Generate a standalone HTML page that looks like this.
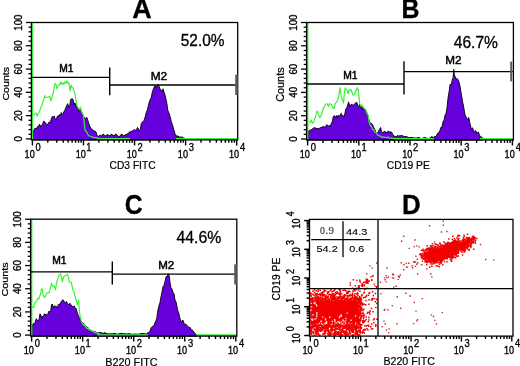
<!DOCTYPE html><html><head><meta charset="utf-8"><style>html,body{margin:0;padding:0;background:#fff}svg{display:block;will-change:transform}</style></head><body><svg width="520" height="366" viewBox="0 0 520 366"><rect width="520" height="366" fill="#fff"/><path d="M32.30,139.90 L33.50,131.00 L34.75,128.50 L36.00,128.50 L37.00,127.68 L38.00,126.00 L38.75,126.29 L39.50,124.10 L40.60,127.00 L41.55,125.12 L42.50,124.50 L43.50,121.22 L44.50,121.50 L45.70,123.16 L46.90,125.00 L47.95,124.13 L49.00,122.00 L50.00,122.55 L51.00,120.00 L52.25,116.51 L53.50,116.70 L54.40,116.08 L55.30,119.40 L56.40,118.79 L57.50,116.00 L58.50,116.02 L59.50,114.50 L60.38,115.90 L61.25,112.50 L62.12,114.67 L63.00,113.50 L64.00,111.57 L65.00,110.00 L65.75,107.49 L66.50,106.00 L67.70,103.70 L68.80,107.50 L69.70,105.95 L70.60,99.60 L71.75,98.75 L72.90,99.10 L74.00,104.80 L74.75,102.87 L75.50,104.00 L76.60,107.00 L77.67,107.06 L78.75,111.25 L80.00,108.00 L80.75,110.17 L81.50,112.00 L82.50,113.75 L83.25,115.61 L84.00,117.00 L85.20,119.00 L86.05,117.73 L86.90,117.50 L88.00,121.00 L88.75,123.75 L90.00,126.50 L91.25,128.75 L92.12,129.31 L93.00,130.00 L94.00,130.89 L95.00,131.25 L96.00,131.80 L96.75,134.55 L97.50,136.25 L98.75,136.33 L100.00,135.00 L101.00,135.64 L102.00,136.00 L103.00,134.05 L104.00,134.50 L105.00,135.72 L106.00,136.00 L107.00,134.57 L108.00,135.00 L109.00,135.39 L110.00,136.00 L111.00,134.26 L112.00,134.50 L113.00,135.25 L114.00,136.00 L115.00,134.46 L116.00,134.00 L117.00,135.15 L118.00,136.00 L119.00,137.83 L120.00,135.50 L121.00,134.72 L122.00,134.00 L123.00,135.58 L124.00,136.00 L125.00,134.64 L126.00,135.00 L126.92,133.95 L127.83,133.87 L128.75,132.50 L129.88,131.92 L131.00,131.50 L131.92,131.35 L132.83,130.60 L133.75,130.00 L134.62,129.25 L135.50,130.50 L136.50,129.60 L137.50,127.50 L138.45,128.53 L139.40,131.25 L140.32,129.63 L141.25,123.75 L142.50,121.81 L143.75,121.25 L145.00,117.50 L146.25,112.50 L147.50,109.39 L148.75,103.75 L150.00,100.00 L151.25,97.50 L152.50,91.25 L153.25,89.38 L154.00,87.50 L155.00,85.60 L156.00,88.10 L157.00,86.00 L157.88,84.35 L158.75,85.60 L160.00,89.00 L161.00,90.00 L162.00,91.71 L163.00,88.75 L164.00,92.00 L165.00,95.00 L165.95,99.12 L166.90,103.75 L167.82,110.46 L168.75,112.50 L170.00,116.25 L171.25,121.52 L172.50,125.00 L173.75,129.52 L175.00,133.75 L176.25,136.25 L177.12,135.66 L178.00,136.00 L179.00,136.93 L180.00,137.00 L181.25,137.19 L182.50,136.90 L183.75,138.29 L185.00,138.20 L185.00,139.90 Z" fill="#6600dc" stroke="#000" stroke-width="0.9" stroke-linejoin="round"/><path d="M33.30,115.00 L34.30,115.00 L35.15,113.47 L36.00,113.00 L37.20,116.00 L38.50,113.00 L39.50,111.50 L40.60,108.30 L41.60,106.00 L42.90,101.40 L43.80,99.49 L44.70,95.60 L45.63,97.10 L46.57,97.25 L47.50,97.30 L48.65,97.13 L49.80,96.20 L51.00,100.80 L52.15,97.08 L53.30,92.70 L54.15,86.90 L55.00,83.50 L55.90,84.10 L56.80,88.70 L57.95,85.90 L59.10,84.70 L59.95,84.49 L60.80,81.80 L61.95,84.35 L63.10,82.90 L63.95,84.35 L64.80,81.80 L65.70,83.20 L66.60,80.60 L67.75,83.40 L68.90,82.90 L70.00,91.00 L71.20,85.20 L72.05,87.77 L72.90,87.50 L73.75,90.16 L74.60,92.10 L75.80,99.10 L76.90,104.80 L77.80,107.78 L78.70,108.30 L79.55,109.70 L80.40,107.10 L81.60,111.80 L82.45,113.04 L83.30,115.20 L84.00,120.00 L85.00,130.00 L86.25,131.36 L87.50,133.75 L88.75,135.99 L90.00,136.00 L91.25,136.56 L92.50,136.90 L93.75,137.56 L95.00,137.50 L96.00,137.96 L97.00,137.52 L98.00,138.71 L99.00,138.66 L100.00,138.40" fill="none" stroke="#3cf03c" stroke-width="1.2" stroke-linejoin="round"/><line x1="97.00" y1="138.90" x2="130.00" y2="138.90" stroke="#3cf03c" stroke-width="1.9"/><line x1="176.00" y1="138.90" x2="237.20" y2="138.90" stroke="#3cf03c" stroke-width="1.9"/><line x1="32.50" y1="23.10" x2="32.50" y2="139.30" stroke="#3cf03c" stroke-width="1.4"/><rect x="31.40" y="22.50" width="206.30" height="117.40" fill="none" stroke="#000" stroke-width="1.3"/><line x1="25.90" y1="138.90" x2="31.40" y2="138.90" stroke="#000" stroke-width="1.3"/><line x1="28.50" y1="134.24" x2="31.40" y2="134.24" stroke="#000" stroke-width="1.3"/><line x1="28.50" y1="129.59" x2="31.40" y2="129.59" stroke="#000" stroke-width="1.3"/><line x1="28.50" y1="124.93" x2="31.40" y2="124.93" stroke="#000" stroke-width="1.3"/><line x1="28.50" y1="120.28" x2="31.40" y2="120.28" stroke="#000" stroke-width="1.3"/><line x1="25.90" y1="115.62" x2="31.40" y2="115.62" stroke="#000" stroke-width="1.3"/><line x1="28.50" y1="110.96" x2="31.40" y2="110.96" stroke="#000" stroke-width="1.3"/><line x1="28.50" y1="106.31" x2="31.40" y2="106.31" stroke="#000" stroke-width="1.3"/><line x1="28.50" y1="101.65" x2="31.40" y2="101.65" stroke="#000" stroke-width="1.3"/><line x1="28.50" y1="97.00" x2="31.40" y2="97.00" stroke="#000" stroke-width="1.3"/><line x1="25.90" y1="92.34" x2="31.40" y2="92.34" stroke="#000" stroke-width="1.3"/><line x1="28.50" y1="87.68" x2="31.40" y2="87.68" stroke="#000" stroke-width="1.3"/><line x1="28.50" y1="83.03" x2="31.40" y2="83.03" stroke="#000" stroke-width="1.3"/><line x1="28.50" y1="78.37" x2="31.40" y2="78.37" stroke="#000" stroke-width="1.3"/><line x1="28.50" y1="73.72" x2="31.40" y2="73.72" stroke="#000" stroke-width="1.3"/><line x1="25.90" y1="69.06" x2="31.40" y2="69.06" stroke="#000" stroke-width="1.3"/><line x1="28.50" y1="64.40" x2="31.40" y2="64.40" stroke="#000" stroke-width="1.3"/><line x1="28.50" y1="59.75" x2="31.40" y2="59.75" stroke="#000" stroke-width="1.3"/><line x1="28.50" y1="55.09" x2="31.40" y2="55.09" stroke="#000" stroke-width="1.3"/><line x1="28.50" y1="50.44" x2="31.40" y2="50.44" stroke="#000" stroke-width="1.3"/><line x1="25.90" y1="45.78" x2="31.40" y2="45.78" stroke="#000" stroke-width="1.3"/><line x1="28.50" y1="41.12" x2="31.40" y2="41.12" stroke="#000" stroke-width="1.3"/><line x1="28.50" y1="36.47" x2="31.40" y2="36.47" stroke="#000" stroke-width="1.3"/><line x1="28.50" y1="31.81" x2="31.40" y2="31.81" stroke="#000" stroke-width="1.3"/><line x1="28.50" y1="27.16" x2="31.40" y2="27.16" stroke="#000" stroke-width="1.3"/><line x1="25.90" y1="22.50" x2="31.40" y2="22.50" stroke="#000" stroke-width="1.3"/><line x1="32.40" y1="139.90" x2="32.40" y2="145.40" stroke="#000" stroke-width="1.4"/><line x1="47.78" y1="139.90" x2="47.78" y2="142.80" stroke="#000" stroke-width="1.4"/><line x1="56.77" y1="139.90" x2="56.77" y2="142.80" stroke="#000" stroke-width="1.4"/><line x1="63.15" y1="139.90" x2="63.15" y2="142.80" stroke="#000" stroke-width="1.4"/><line x1="68.10" y1="139.90" x2="68.10" y2="142.80" stroke="#000" stroke-width="1.4"/><line x1="72.14" y1="139.90" x2="72.14" y2="142.80" stroke="#000" stroke-width="1.4"/><line x1="75.56" y1="139.90" x2="75.56" y2="142.80" stroke="#000" stroke-width="1.4"/><line x1="78.53" y1="139.90" x2="78.53" y2="142.80" stroke="#000" stroke-width="1.4"/><line x1="81.14" y1="139.90" x2="81.14" y2="142.80" stroke="#000" stroke-width="1.4"/><line x1="83.47" y1="139.90" x2="83.47" y2="145.40" stroke="#000" stroke-width="1.4"/><line x1="98.85" y1="139.90" x2="98.85" y2="142.80" stroke="#000" stroke-width="1.4"/><line x1="107.84" y1="139.90" x2="107.84" y2="142.80" stroke="#000" stroke-width="1.4"/><line x1="114.23" y1="139.90" x2="114.23" y2="142.80" stroke="#000" stroke-width="1.4"/><line x1="119.17" y1="139.90" x2="119.17" y2="142.80" stroke="#000" stroke-width="1.4"/><line x1="123.22" y1="139.90" x2="123.22" y2="142.80" stroke="#000" stroke-width="1.4"/><line x1="126.64" y1="139.90" x2="126.64" y2="142.80" stroke="#000" stroke-width="1.4"/><line x1="129.60" y1="139.90" x2="129.60" y2="142.80" stroke="#000" stroke-width="1.4"/><line x1="132.21" y1="139.90" x2="132.21" y2="142.80" stroke="#000" stroke-width="1.4"/><line x1="134.55" y1="139.90" x2="134.55" y2="145.40" stroke="#000" stroke-width="1.4"/><line x1="149.93" y1="139.90" x2="149.93" y2="142.80" stroke="#000" stroke-width="1.4"/><line x1="158.92" y1="139.90" x2="158.92" y2="142.80" stroke="#000" stroke-width="1.4"/><line x1="165.30" y1="139.90" x2="165.30" y2="142.80" stroke="#000" stroke-width="1.4"/><line x1="170.25" y1="139.90" x2="170.25" y2="142.80" stroke="#000" stroke-width="1.4"/><line x1="174.29" y1="139.90" x2="174.29" y2="142.80" stroke="#000" stroke-width="1.4"/><line x1="177.71" y1="139.90" x2="177.71" y2="142.80" stroke="#000" stroke-width="1.4"/><line x1="180.68" y1="139.90" x2="180.68" y2="142.80" stroke="#000" stroke-width="1.4"/><line x1="183.29" y1="139.90" x2="183.29" y2="142.80" stroke="#000" stroke-width="1.4"/><line x1="185.62" y1="139.90" x2="185.62" y2="145.40" stroke="#000" stroke-width="1.4"/><line x1="201.00" y1="139.90" x2="201.00" y2="142.80" stroke="#000" stroke-width="1.4"/><line x1="209.99" y1="139.90" x2="209.99" y2="142.80" stroke="#000" stroke-width="1.4"/><line x1="216.38" y1="139.90" x2="216.38" y2="142.80" stroke="#000" stroke-width="1.4"/><line x1="221.32" y1="139.90" x2="221.32" y2="142.80" stroke="#000" stroke-width="1.4"/><line x1="225.37" y1="139.90" x2="225.37" y2="142.80" stroke="#000" stroke-width="1.4"/><line x1="228.79" y1="139.90" x2="228.79" y2="142.80" stroke="#000" stroke-width="1.4"/><line x1="231.75" y1="139.90" x2="231.75" y2="142.80" stroke="#000" stroke-width="1.4"/><line x1="234.36" y1="139.90" x2="234.36" y2="142.80" stroke="#000" stroke-width="1.4"/><line x1="236.70" y1="139.90" x2="236.70" y2="145.40" stroke="#000" stroke-width="1.4"/><text transform="translate(21.74,141.59) rotate(-90) scale(0.820,1)" font-family='"Liberation Sans", sans-serif' font-weight="normal" font-size="11.80" fill="#000" stroke="#000" stroke-width="0.37">0</text><text transform="translate(21.74,121.06) rotate(-90) scale(0.820,1)" font-family='"Liberation Sans", sans-serif' font-weight="normal" font-size="11.80" fill="#000" stroke="#000" stroke-width="0.37">20</text><text transform="translate(21.74,97.64) rotate(-90) scale(0.820,1)" font-family='"Liberation Sans", sans-serif' font-weight="normal" font-size="11.80" fill="#000" stroke="#000" stroke-width="0.37">40</text><text transform="translate(21.74,74.50) rotate(-90) scale(0.820,1)" font-family='"Liberation Sans", sans-serif' font-weight="normal" font-size="11.80" fill="#000" stroke="#000" stroke-width="0.37">60</text><text transform="translate(21.74,51.18) rotate(-90) scale(0.820,1)" font-family='"Liberation Sans", sans-serif' font-weight="normal" font-size="11.80" fill="#000" stroke="#000" stroke-width="0.37">80</text><text transform="translate(21.74,30.75) rotate(-90) scale(0.820,1)" font-family='"Liberation Sans", sans-serif' font-weight="normal" font-size="11.80" fill="#000" stroke="#000" stroke-width="0.37">100</text><text transform="translate(24.60,157.70) scale(0.815,1)" font-family='"Liberation Sans", sans-serif' font-weight="normal" font-size="11.20" fill="#000" stroke="#000" stroke-width="0.37">10</text><text transform="translate(35.53,151.20) scale(0.900,1)" font-family='"Liberation Sans", sans-serif' font-weight="normal" font-size="10.40" fill="#000" stroke="#000" stroke-width="0.33">0</text><text transform="translate(75.68,157.70) scale(0.815,1)" font-family='"Liberation Sans", sans-serif' font-weight="normal" font-size="11.20" fill="#000" stroke="#000" stroke-width="0.37">10</text><text transform="translate(86.26,151.20) scale(0.900,1)" font-family='"Liberation Sans", sans-serif' font-weight="normal" font-size="10.40" fill="#000" stroke="#000" stroke-width="0.33">1</text><text transform="translate(126.75,157.70) scale(0.815,1)" font-family='"Liberation Sans", sans-serif' font-weight="normal" font-size="11.20" fill="#000" stroke="#000" stroke-width="0.37">10</text><text transform="translate(137.58,151.20) scale(0.900,1)" font-family='"Liberation Sans", sans-serif' font-weight="normal" font-size="10.40" fill="#000" stroke="#000" stroke-width="0.33">2</text><text transform="translate(177.83,157.70) scale(0.815,1)" font-family='"Liberation Sans", sans-serif' font-weight="normal" font-size="11.20" fill="#000" stroke="#000" stroke-width="0.37">10</text><text transform="translate(188.77,151.20) scale(0.900,1)" font-family='"Liberation Sans", sans-serif' font-weight="normal" font-size="10.40" fill="#000" stroke="#000" stroke-width="0.33">3</text><text transform="translate(228.90,157.70) scale(0.815,1)" font-family='"Liberation Sans", sans-serif' font-weight="normal" font-size="11.20" fill="#000" stroke="#000" stroke-width="0.37">10</text><text transform="translate(239.99,151.20) scale(0.900,1)" font-family='"Liberation Sans", sans-serif' font-weight="normal" font-size="10.40" fill="#000" stroke="#000" stroke-width="0.33">4</text><line x1="31.40" y1="77.40" x2="109.70" y2="77.40" stroke="#000" stroke-width="1.3"/><line x1="109.70" y1="67.50" x2="109.70" y2="95.20" stroke="#000" stroke-width="1.4"/><line x1="109.70" y1="85.00" x2="237.70" y2="85.00" stroke="#000" stroke-width="1.3"/><rect x="235.2" y="74.6" width="2.6" height="20.4" fill="#5a5a5a"/><text transform="translate(59.26,72.20) scale(0.904,1)" font-family='"Liberation Sans", sans-serif' font-weight="normal" font-size="11.34" fill="#000" stroke="#000" stroke-width="0.55">M1</text><text transform="translate(150.63,79.60) scale(1.134,1)" font-family='"Liberation Sans", sans-serif' font-weight="normal" font-size="10.45" fill="#000" stroke="#000" stroke-width="0.44">M2</text><text transform="translate(180.78,45.94) scale(0.934,1)" font-family='"Liberation Sans", sans-serif' font-weight="normal" font-size="16.53" fill="#000" stroke="#000" stroke-width="0.32">52.0%</text><text transform="translate(132.13,18.30) scale(0.998,1)" font-family='"Liberation Sans", sans-serif' font-weight="bold" font-size="27.04" fill="#000" stroke="#000" stroke-width="0.30">A</text><text transform="translate(8.66,100.59) rotate(-90) scale(1.145,1)" font-family='"Liberation Sans", sans-serif' font-weight="normal" font-size="9.32" fill="#000" stroke="#000" stroke-width="0.22">Counts</text><text transform="translate(109.58,168.50) scale(1.020,1)" font-family='"Liberation Sans", sans-serif' font-weight="normal" font-size="10.03" fill="#000" stroke="#000" stroke-width="0.20">CD3 FITC</text><path d="M307.50,140.00 L308.50,131.00 L309.25,130.68 L310.00,130.00 L311.00,130.29 L312.00,129.00 L313.00,128.84 L314.00,127.43 L315.00,128.10 L316.00,128.18 L317.00,128.50 L318.00,128.58 L319.00,129.09 L320.00,127.50 L321.00,128.07 L322.00,127.00 L322.88,126.70 L323.75,126.25 L324.62,127.99 L325.50,126.50 L326.50,124.82 L327.50,125.00 L328.50,126.24 L329.50,125.50 L330.38,126.04 L331.25,123.75 L332.50,121.00 L333.10,116.90 L333.95,115.89 L334.80,115.80 L336.00,118.00 L336.85,115.35 L337.70,117.50 L338.60,115.32 L339.50,116.00 L340.30,115.09 L341.10,113.40 L342.30,115.47 L343.50,115.80 L344.25,116.80 L345.00,113.00 L345.95,108.56 L346.90,107.70 L347.75,104.80 L348.60,101.90 L349.80,106.50 L351.00,104.50 L352.10,104.20 L352.95,105.77 L353.80,104.80 L354.70,103.64 L355.60,103.10 L356.75,102.15 L357.90,106.00 L358.75,106.66 L359.60,104.20 L360.75,107.75 L361.90,106.50 L362.70,109.37 L363.50,108.50 L364.80,110.00 L365.95,110.10 L367.10,113.40 L368.20,116.00 L368.80,119.20 L370.00,123.00 L371.25,123.16 L372.50,124.40 L373.25,126.47 L374.00,128.00 L375.00,130.00 L376.25,133.61 L377.50,132.50 L378.25,131.84 L379.00,130.00 L379.80,128.87 L380.60,127.50 L381.55,131.58 L382.50,132.50 L383.75,131.80 L385.00,131.25 L386.00,133.35 L387.00,132.00 L388.20,131.33 L389.40,131.90 L390.65,131.78 L391.90,132.50 L392.70,134.32 L393.50,135.00 L394.25,136.55 L395.00,136.25 L395.94,136.64 L396.88,136.43 L397.81,135.17 L398.75,136.25 L399.69,135.65 L400.62,135.54 L401.56,135.42 L402.50,135.60 L403.75,136.41 L405.00,136.50 L406.25,136.51 L407.50,136.90 L408.75,137.59 L410.00,137.50 L411.00,137.60 L412.00,137.47 L413.00,137.73 L414.00,137.93 L415.00,137.80 L416.00,138.20 L417.00,137.68 L418.00,137.82 L419.00,137.40 L420.00,138.00 L421.00,138.65 L422.00,138.59 L423.00,137.93 L424.00,137.81 L425.00,137.50 L426.00,138.07 L427.00,138.08 L428.00,138.88 L429.00,138.10 L430.00,138.00 L430.94,137.38 L431.88,136.29 L432.81,137.88 L433.75,136.90 L435.00,136.68 L436.25,136.25 L437.50,133.17 L438.75,132.50 L439.80,131.01 L440.85,127.46 L441.90,127.50 L443.10,121.25 L444.05,120.53 L445.00,115.00 L445.95,113.82 L446.90,108.75 L448.10,97.50 L449.40,90.00 L450.00,84.40 L451.25,85.00 L452.50,78.75 L453.10,77.50 L453.75,69.40 L454.30,75.00 L455.00,76.25 L456.25,78.99 L457.50,78.75 L458.75,81.25 L460.00,86.25 L461.25,93.75 L462.50,101.25 L463.75,107.50 L465.00,115.00 L466.25,117.23 L467.50,120.00 L468.75,117.50 L470.00,123.75 L471.25,128.75 L472.50,127.82 L473.75,131.25 L474.69,131.44 L475.62,130.46 L476.56,132.72 L477.50,132.50 L478.45,132.06 L479.40,135.00 L480.60,136.90 L481.80,137.13 L483.00,138.20 L483.00,140.00 Z" fill="#6600dc" stroke="#000" stroke-width="0.9" stroke-linejoin="round"/><path d="M309.00,122.00 L310.12,122.45 L311.25,120.00 L312.50,123.19 L313.75,122.50 L314.62,118.30 L315.50,117.00 L316.50,112.12 L317.50,111.25 L318.75,115.60 L320.00,117.50 L321.25,115.56 L322.50,111.25 L323.50,107.61 L324.50,107.00 L325.38,104.25 L326.25,103.75 L327.38,103.99 L328.50,106.50 L329.65,103.42 L330.80,104.20 L331.95,105.41 L333.10,108.80 L334.25,107.95 L335.40,103.10 L336.55,102.54 L337.70,99.60 L338.85,95.55 L340.00,87.50 L340.85,92.84 L341.70,98.50 L342.60,100.57 L343.50,103.10 L344.60,90.40 L345.45,87.87 L346.30,89.20 L347.20,91.26 L348.10,93.80 L348.95,90.10 L349.80,90.40 L350.95,89.55 L352.10,92.70 L352.95,95.16 L353.80,95.00 L354.70,94.70 L355.60,90.40 L356.45,90.61 L357.30,87.50 L358.40,90.40 L359.60,103.10 L360.75,105.95 L361.90,104.80 L363.05,106.95 L364.20,108.30 L365.35,109.22 L366.50,112.30 L367.40,114.17 L368.30,115.80 L369.00,122.00 L369.75,123.59 L370.50,126.00 L371.50,126.70 L372.50,129.50 L373.75,129.65 L375.00,132.50 L376.25,132.79 L377.50,135.00 L378.38,135.37 L379.25,135.83 L380.12,135.90 L381.00,136.50 L382.00,137.30 L383.00,136.93 L384.00,137.26 L385.00,137.20 L386.00,137.81 L387.00,137.23 L388.00,137.02 L389.00,138.08 L390.00,138.00 L391.00,137.89 L392.00,138.52 L393.00,138.33 L394.00,138.57 L395.00,138.40" fill="none" stroke="#3cf03c" stroke-width="1.2" stroke-linejoin="round"/><line x1="394.00" y1="139.00" x2="434.00" y2="139.00" stroke="#3cf03c" stroke-width="1.9"/><line x1="480.00" y1="139.00" x2="512.90" y2="139.00" stroke="#3cf03c" stroke-width="1.9"/><line x1="307.70" y1="23.10" x2="307.70" y2="139.40" stroke="#3cf03c" stroke-width="1.4"/><rect x="306.60" y="22.50" width="206.80" height="117.50" fill="none" stroke="#000" stroke-width="1.3"/><line x1="301.10" y1="139.00" x2="306.60" y2="139.00" stroke="#000" stroke-width="1.3"/><line x1="303.70" y1="134.34" x2="306.60" y2="134.34" stroke="#000" stroke-width="1.3"/><line x1="303.70" y1="129.68" x2="306.60" y2="129.68" stroke="#000" stroke-width="1.3"/><line x1="303.70" y1="125.02" x2="306.60" y2="125.02" stroke="#000" stroke-width="1.3"/><line x1="303.70" y1="120.36" x2="306.60" y2="120.36" stroke="#000" stroke-width="1.3"/><line x1="301.10" y1="115.70" x2="306.60" y2="115.70" stroke="#000" stroke-width="1.3"/><line x1="303.70" y1="111.04" x2="306.60" y2="111.04" stroke="#000" stroke-width="1.3"/><line x1="303.70" y1="106.38" x2="306.60" y2="106.38" stroke="#000" stroke-width="1.3"/><line x1="303.70" y1="101.72" x2="306.60" y2="101.72" stroke="#000" stroke-width="1.3"/><line x1="303.70" y1="97.06" x2="306.60" y2="97.06" stroke="#000" stroke-width="1.3"/><line x1="301.10" y1="92.40" x2="306.60" y2="92.40" stroke="#000" stroke-width="1.3"/><line x1="303.70" y1="87.74" x2="306.60" y2="87.74" stroke="#000" stroke-width="1.3"/><line x1="303.70" y1="83.08" x2="306.60" y2="83.08" stroke="#000" stroke-width="1.3"/><line x1="303.70" y1="78.42" x2="306.60" y2="78.42" stroke="#000" stroke-width="1.3"/><line x1="303.70" y1="73.76" x2="306.60" y2="73.76" stroke="#000" stroke-width="1.3"/><line x1="301.10" y1="69.10" x2="306.60" y2="69.10" stroke="#000" stroke-width="1.3"/><line x1="303.70" y1="64.44" x2="306.60" y2="64.44" stroke="#000" stroke-width="1.3"/><line x1="303.70" y1="59.78" x2="306.60" y2="59.78" stroke="#000" stroke-width="1.3"/><line x1="303.70" y1="55.12" x2="306.60" y2="55.12" stroke="#000" stroke-width="1.3"/><line x1="303.70" y1="50.46" x2="306.60" y2="50.46" stroke="#000" stroke-width="1.3"/><line x1="301.10" y1="45.80" x2="306.60" y2="45.80" stroke="#000" stroke-width="1.3"/><line x1="303.70" y1="41.14" x2="306.60" y2="41.14" stroke="#000" stroke-width="1.3"/><line x1="303.70" y1="36.48" x2="306.60" y2="36.48" stroke="#000" stroke-width="1.3"/><line x1="303.70" y1="31.82" x2="306.60" y2="31.82" stroke="#000" stroke-width="1.3"/><line x1="303.70" y1="27.16" x2="306.60" y2="27.16" stroke="#000" stroke-width="1.3"/><line x1="301.10" y1="22.50" x2="306.60" y2="22.50" stroke="#000" stroke-width="1.3"/><line x1="307.60" y1="140.00" x2="307.60" y2="145.50" stroke="#000" stroke-width="1.4"/><line x1="323.01" y1="140.00" x2="323.01" y2="142.90" stroke="#000" stroke-width="1.4"/><line x1="332.03" y1="140.00" x2="332.03" y2="142.90" stroke="#000" stroke-width="1.4"/><line x1="338.43" y1="140.00" x2="338.43" y2="142.90" stroke="#000" stroke-width="1.4"/><line x1="343.39" y1="140.00" x2="343.39" y2="142.90" stroke="#000" stroke-width="1.4"/><line x1="347.44" y1="140.00" x2="347.44" y2="142.90" stroke="#000" stroke-width="1.4"/><line x1="350.87" y1="140.00" x2="350.87" y2="142.90" stroke="#000" stroke-width="1.4"/><line x1="353.84" y1="140.00" x2="353.84" y2="142.90" stroke="#000" stroke-width="1.4"/><line x1="356.46" y1="140.00" x2="356.46" y2="142.90" stroke="#000" stroke-width="1.4"/><line x1="358.80" y1="140.00" x2="358.80" y2="145.50" stroke="#000" stroke-width="1.4"/><line x1="374.21" y1="140.00" x2="374.21" y2="142.90" stroke="#000" stroke-width="1.4"/><line x1="383.23" y1="140.00" x2="383.23" y2="142.90" stroke="#000" stroke-width="1.4"/><line x1="389.63" y1="140.00" x2="389.63" y2="142.90" stroke="#000" stroke-width="1.4"/><line x1="394.59" y1="140.00" x2="394.59" y2="142.90" stroke="#000" stroke-width="1.4"/><line x1="398.64" y1="140.00" x2="398.64" y2="142.90" stroke="#000" stroke-width="1.4"/><line x1="402.07" y1="140.00" x2="402.07" y2="142.90" stroke="#000" stroke-width="1.4"/><line x1="405.04" y1="140.00" x2="405.04" y2="142.90" stroke="#000" stroke-width="1.4"/><line x1="407.66" y1="140.00" x2="407.66" y2="142.90" stroke="#000" stroke-width="1.4"/><line x1="410.00" y1="140.00" x2="410.00" y2="145.50" stroke="#000" stroke-width="1.4"/><line x1="425.41" y1="140.00" x2="425.41" y2="142.90" stroke="#000" stroke-width="1.4"/><line x1="434.43" y1="140.00" x2="434.43" y2="142.90" stroke="#000" stroke-width="1.4"/><line x1="440.83" y1="140.00" x2="440.83" y2="142.90" stroke="#000" stroke-width="1.4"/><line x1="445.79" y1="140.00" x2="445.79" y2="142.90" stroke="#000" stroke-width="1.4"/><line x1="449.84" y1="140.00" x2="449.84" y2="142.90" stroke="#000" stroke-width="1.4"/><line x1="453.27" y1="140.00" x2="453.27" y2="142.90" stroke="#000" stroke-width="1.4"/><line x1="456.24" y1="140.00" x2="456.24" y2="142.90" stroke="#000" stroke-width="1.4"/><line x1="458.86" y1="140.00" x2="458.86" y2="142.90" stroke="#000" stroke-width="1.4"/><line x1="461.20" y1="140.00" x2="461.20" y2="145.50" stroke="#000" stroke-width="1.4"/><line x1="476.61" y1="140.00" x2="476.61" y2="142.90" stroke="#000" stroke-width="1.4"/><line x1="485.63" y1="140.00" x2="485.63" y2="142.90" stroke="#000" stroke-width="1.4"/><line x1="492.03" y1="140.00" x2="492.03" y2="142.90" stroke="#000" stroke-width="1.4"/><line x1="496.99" y1="140.00" x2="496.99" y2="142.90" stroke="#000" stroke-width="1.4"/><line x1="501.04" y1="140.00" x2="501.04" y2="142.90" stroke="#000" stroke-width="1.4"/><line x1="504.47" y1="140.00" x2="504.47" y2="142.90" stroke="#000" stroke-width="1.4"/><line x1="507.44" y1="140.00" x2="507.44" y2="142.90" stroke="#000" stroke-width="1.4"/><line x1="510.06" y1="140.00" x2="510.06" y2="142.90" stroke="#000" stroke-width="1.4"/><line x1="512.40" y1="140.00" x2="512.40" y2="145.50" stroke="#000" stroke-width="1.4"/><text transform="translate(296.94,141.69) rotate(-90) scale(0.820,1)" font-family='"Liberation Sans", sans-serif' font-weight="normal" font-size="11.80" fill="#000" stroke="#000" stroke-width="0.37">0</text><text transform="translate(296.94,121.14) rotate(-90) scale(0.820,1)" font-family='"Liberation Sans", sans-serif' font-weight="normal" font-size="11.80" fill="#000" stroke="#000" stroke-width="0.37">20</text><text transform="translate(296.94,97.70) rotate(-90) scale(0.820,1)" font-family='"Liberation Sans", sans-serif' font-weight="normal" font-size="11.80" fill="#000" stroke="#000" stroke-width="0.37">40</text><text transform="translate(296.94,74.54) rotate(-90) scale(0.820,1)" font-family='"Liberation Sans", sans-serif' font-weight="normal" font-size="11.80" fill="#000" stroke="#000" stroke-width="0.37">60</text><text transform="translate(296.94,51.20) rotate(-90) scale(0.820,1)" font-family='"Liberation Sans", sans-serif' font-weight="normal" font-size="11.80" fill="#000" stroke="#000" stroke-width="0.37">80</text><text transform="translate(296.94,30.75) rotate(-90) scale(0.820,1)" font-family='"Liberation Sans", sans-serif' font-weight="normal" font-size="11.80" fill="#000" stroke="#000" stroke-width="0.37">100</text><text transform="translate(299.80,157.80) scale(0.815,1)" font-family='"Liberation Sans", sans-serif' font-weight="normal" font-size="11.20" fill="#000" stroke="#000" stroke-width="0.37">10</text><text transform="translate(310.73,151.30) scale(0.900,1)" font-family='"Liberation Sans", sans-serif' font-weight="normal" font-size="10.40" fill="#000" stroke="#000" stroke-width="0.33">0</text><text transform="translate(351.00,157.80) scale(0.815,1)" font-family='"Liberation Sans", sans-serif' font-weight="normal" font-size="11.20" fill="#000" stroke="#000" stroke-width="0.37">10</text><text transform="translate(361.59,151.30) scale(0.900,1)" font-family='"Liberation Sans", sans-serif' font-weight="normal" font-size="10.40" fill="#000" stroke="#000" stroke-width="0.33">1</text><text transform="translate(402.20,157.80) scale(0.815,1)" font-family='"Liberation Sans", sans-serif' font-weight="normal" font-size="11.20" fill="#000" stroke="#000" stroke-width="0.37">10</text><text transform="translate(413.03,151.30) scale(0.900,1)" font-family='"Liberation Sans", sans-serif' font-weight="normal" font-size="10.40" fill="#000" stroke="#000" stroke-width="0.33">2</text><text transform="translate(453.40,157.80) scale(0.815,1)" font-family='"Liberation Sans", sans-serif' font-weight="normal" font-size="11.20" fill="#000" stroke="#000" stroke-width="0.37">10</text><text transform="translate(464.34,151.30) scale(0.900,1)" font-family='"Liberation Sans", sans-serif' font-weight="normal" font-size="10.40" fill="#000" stroke="#000" stroke-width="0.33">3</text><text transform="translate(504.60,157.80) scale(0.815,1)" font-family='"Liberation Sans", sans-serif' font-weight="normal" font-size="11.20" fill="#000" stroke="#000" stroke-width="0.37">10</text><text transform="translate(515.69,151.30) scale(0.900,1)" font-family='"Liberation Sans", sans-serif' font-weight="normal" font-size="10.40" fill="#000" stroke="#000" stroke-width="0.33">4</text><line x1="306.60" y1="84.00" x2="404.00" y2="84.00" stroke="#000" stroke-width="1.3"/><line x1="404.00" y1="61.20" x2="404.00" y2="94.60" stroke="#000" stroke-width="1.4"/><line x1="404.00" y1="71.60" x2="513.40" y2="71.60" stroke="#000" stroke-width="1.3"/><rect x="510.2" y="61.6" width="2.0" height="19.8" fill="#5a5a5a"/><text transform="translate(343.25,78.60) scale(1.015,1)" font-family='"Liberation Sans", sans-serif' font-weight="normal" font-size="10.17" fill="#000" stroke="#000" stroke-width="0.49">M1</text><text transform="translate(445.14,63.50) scale(1.104,1)" font-family='"Liberation Sans", sans-serif' font-weight="normal" font-size="10.60" fill="#000" stroke="#000" stroke-width="0.45">M2</text><text transform="translate(453.74,47.55) scale(0.995,1)" font-family='"Liberation Sans", sans-serif' font-weight="normal" font-size="15.68" fill="#000" stroke="#000" stroke-width="0.30">46.7%</text><text transform="translate(401.53,18.30) scale(0.922,1)" font-family='"Liberation Sans", sans-serif' font-weight="bold" font-size="27.04" fill="#000" stroke="#000" stroke-width="0.33">B</text><text transform="translate(284.15,101.80) rotate(-90) scale(1.084,1)" font-family='"Liberation Sans", sans-serif' font-weight="normal" font-size="10.03" fill="#000" stroke="#000" stroke-width="0.23">Counts</text><text transform="translate(386.78,168.60) scale(1.002,1)" font-family='"Liberation Sans", sans-serif' font-weight="normal" font-size="10.31" fill="#000" stroke="#000" stroke-width="0.20">CD19 PE</text><path d="M31.50,336.10 L32.50,325.00 L33.10,323.75 L34.05,324.02 L35.00,322.50 L36.25,318.85 L37.50,320.00 L38.50,321.00 L39.25,318.39 L40.00,313.75 L40.95,315.27 L41.90,318.75 L42.70,316.31 L43.50,316.00 L44.25,314.22 L45.00,313.75 L46.00,315.30 L47.00,314.50 L47.88,314.27 L48.75,311.25 L50.00,312.00 L50.75,310.19 L51.50,304.90 L52.35,303.95 L53.20,307.80 L54.10,305.98 L55.00,306.25 L56.10,306.10 L57.50,308.20 L58.25,304.45 L59.00,305.50 L59.85,303.86 L60.70,302.60 L62.00,300.50 L63.00,299.70 L64.00,301.50 L65.30,302.60 L66.50,301.50 L67.60,303.80 L68.75,304.62 L69.90,303.20 L71.00,305.00 L72.20,306.10 L73.10,306.90 L74.05,305.86 L75.00,307.50 L76.25,308.75 L77.17,312.27 L78.10,315.00 L79.05,317.21 L80.00,318.75 L81.25,321.91 L82.50,322.50 L83.75,323.47 L85.00,326.25 L86.00,326.07 L87.00,327.50 L87.88,327.44 L88.75,328.75 L89.62,330.82 L90.50,330.00 L91.50,331.43 L92.50,331.25 L93.75,331.29 L95.00,331.50 L96.00,332.29 L97.00,332.80 L98.00,332.73 L99.00,332.65 L100.00,332.40 L101.00,332.68 L102.00,333.03 L103.00,333.60 L104.00,332.78 L105.00,332.87 L106.00,333.00 L107.00,334.08 L108.00,333.76 L109.00,333.78 L110.00,334.00 L111.00,333.76 L112.00,333.73 L113.00,333.72 L114.00,333.40 L115.00,333.30 L116.00,333.89 L117.00,334.10 L118.00,334.20 L119.00,333.74 L120.00,333.56 L121.00,333.30 L122.00,333.60 L123.00,333.27 L124.00,334.28 L125.00,333.08 L126.00,334.20 L127.00,333.99 L128.00,333.74 L129.00,333.63 L130.00,333.80 L131.00,333.92 L132.00,334.44 L133.00,334.07 L134.00,334.06 L135.00,334.20 L136.00,333.92 L137.00,334.07 L138.00,334.45 L139.00,333.88 L140.00,334.00 L141.00,333.52 L142.00,333.47 L143.00,333.54 L144.00,333.42 L145.00,334.00 L145.94,334.13 L146.88,333.43 L147.81,332.75 L148.75,332.50 L150.00,331.14 L151.25,327.50 L152.50,326.23 L153.75,326.25 L155.00,322.50 L156.25,320.00 L156.90,317.50 L157.50,312.50 L158.75,306.25 L160.00,302.50 L160.60,298.75 L161.90,292.50 L163.10,286.25 L164.05,285.54 L165.00,281.25 L166.25,276.25 L167.20,277.00 L168.10,273.60 L169.40,276.25 L170.00,282.50 L170.95,287.49 L171.90,288.75 L173.10,292.50 L174.05,293.85 L175.00,300.00 L176.25,302.60 L177.50,310.00 L178.75,312.96 L180.00,318.75 L180.94,320.88 L181.88,322.28 L182.81,320.04 L183.75,322.50 L184.69,324.64 L185.62,323.95 L186.56,324.90 L187.50,326.25 L188.44,326.66 L189.38,327.83 L190.31,327.53 L191.25,330.00 L192.19,330.05 L193.12,330.73 L194.06,332.62 L195.00,333.10 L196.00,334.76 L197.00,334.60 L197.00,336.10 Z" fill="#6600dc" stroke="#000" stroke-width="0.9" stroke-linejoin="round"/><path d="M32.30,307.00 L33.00,307.20 L33.75,307.60 L34.50,304.00 L35.50,302.16 L36.50,301.40 L37.65,298.25 L38.80,299.10 L39.65,296.09 L40.50,294.50 L41.35,289.91 L42.20,288.80 L43.10,294.80 L44.00,296.80 L44.85,297.25 L45.70,295.70 L46.85,292.94 L48.00,292.80 L49.15,292.55 L50.30,288.80 L51.50,283.00 L52.35,285.82 L53.20,286.50 L54.35,286.20 L55.50,289.90 L56.35,284.25 L57.20,280.70 L58.10,277.29 L59.00,274.90 L59.85,274.39 L60.70,273.80 L61.55,278.08 L62.40,281.80 L63.25,278.24 L64.10,276.10 L65.25,275.91 L66.40,274.90 L67.30,274.23 L68.20,276.10 L69.30,281.80 L70.50,282.40 L71.35,282.66 L72.20,286.50 L73.05,290.75 L73.90,291.00 L75.10,296.80 L76.30,300.30 L77.40,304.90 L78.60,300.30 L79.10,307.20 L79.60,313.00 L81.00,320.00 L81.75,322.24 L82.50,323.75 L83.44,325.09 L84.38,324.24 L85.31,326.43 L86.25,327.50 L87.25,328.73 L88.25,327.82 L89.25,330.10 L90.25,329.73 L91.25,330.60 L92.19,331.23 L93.12,331.33 L94.06,331.91 L95.00,332.20 L96.00,333.11 L97.00,332.75 L98.00,333.89 L99.00,333.37 L100.00,334.00" fill="none" stroke="#3cf03c" stroke-width="1.2" stroke-linejoin="round"/><line x1="97.00" y1="335.10" x2="148.00" y2="335.10" stroke="#3cf03c" stroke-width="1.9"/><line x1="196.00" y1="335.10" x2="236.30" y2="335.10" stroke="#3cf03c" stroke-width="1.9"/><line x1="31.70" y1="219.80" x2="31.70" y2="335.50" stroke="#3cf03c" stroke-width="1.4"/><rect x="30.60" y="219.20" width="206.20" height="116.90" fill="none" stroke="#000" stroke-width="1.3"/><line x1="25.10" y1="335.10" x2="30.60" y2="335.10" stroke="#000" stroke-width="1.3"/><line x1="27.70" y1="330.46" x2="30.60" y2="330.46" stroke="#000" stroke-width="1.3"/><line x1="27.70" y1="325.83" x2="30.60" y2="325.83" stroke="#000" stroke-width="1.3"/><line x1="27.70" y1="321.19" x2="30.60" y2="321.19" stroke="#000" stroke-width="1.3"/><line x1="27.70" y1="316.56" x2="30.60" y2="316.56" stroke="#000" stroke-width="1.3"/><line x1="25.10" y1="311.92" x2="30.60" y2="311.92" stroke="#000" stroke-width="1.3"/><line x1="27.70" y1="307.28" x2="30.60" y2="307.28" stroke="#000" stroke-width="1.3"/><line x1="27.70" y1="302.65" x2="30.60" y2="302.65" stroke="#000" stroke-width="1.3"/><line x1="27.70" y1="298.01" x2="30.60" y2="298.01" stroke="#000" stroke-width="1.3"/><line x1="27.70" y1="293.38" x2="30.60" y2="293.38" stroke="#000" stroke-width="1.3"/><line x1="25.10" y1="288.74" x2="30.60" y2="288.74" stroke="#000" stroke-width="1.3"/><line x1="27.70" y1="284.10" x2="30.60" y2="284.10" stroke="#000" stroke-width="1.3"/><line x1="27.70" y1="279.47" x2="30.60" y2="279.47" stroke="#000" stroke-width="1.3"/><line x1="27.70" y1="274.83" x2="30.60" y2="274.83" stroke="#000" stroke-width="1.3"/><line x1="27.70" y1="270.20" x2="30.60" y2="270.20" stroke="#000" stroke-width="1.3"/><line x1="25.10" y1="265.56" x2="30.60" y2="265.56" stroke="#000" stroke-width="1.3"/><line x1="27.70" y1="260.92" x2="30.60" y2="260.92" stroke="#000" stroke-width="1.3"/><line x1="27.70" y1="256.29" x2="30.60" y2="256.29" stroke="#000" stroke-width="1.3"/><line x1="27.70" y1="251.65" x2="30.60" y2="251.65" stroke="#000" stroke-width="1.3"/><line x1="27.70" y1="247.02" x2="30.60" y2="247.02" stroke="#000" stroke-width="1.3"/><line x1="25.10" y1="242.38" x2="30.60" y2="242.38" stroke="#000" stroke-width="1.3"/><line x1="27.70" y1="237.74" x2="30.60" y2="237.74" stroke="#000" stroke-width="1.3"/><line x1="27.70" y1="233.11" x2="30.60" y2="233.11" stroke="#000" stroke-width="1.3"/><line x1="27.70" y1="228.47" x2="30.60" y2="228.47" stroke="#000" stroke-width="1.3"/><line x1="27.70" y1="223.84" x2="30.60" y2="223.84" stroke="#000" stroke-width="1.3"/><line x1="25.10" y1="219.20" x2="30.60" y2="219.20" stroke="#000" stroke-width="1.3"/><line x1="31.60" y1="336.10" x2="31.60" y2="341.60" stroke="#000" stroke-width="1.4"/><line x1="46.97" y1="336.10" x2="46.97" y2="339.00" stroke="#000" stroke-width="1.4"/><line x1="55.96" y1="336.10" x2="55.96" y2="339.00" stroke="#000" stroke-width="1.4"/><line x1="62.34" y1="336.10" x2="62.34" y2="339.00" stroke="#000" stroke-width="1.4"/><line x1="67.28" y1="336.10" x2="67.28" y2="339.00" stroke="#000" stroke-width="1.4"/><line x1="71.32" y1="336.10" x2="71.32" y2="339.00" stroke="#000" stroke-width="1.4"/><line x1="74.74" y1="336.10" x2="74.74" y2="339.00" stroke="#000" stroke-width="1.4"/><line x1="77.70" y1="336.10" x2="77.70" y2="339.00" stroke="#000" stroke-width="1.4"/><line x1="80.31" y1="336.10" x2="80.31" y2="339.00" stroke="#000" stroke-width="1.4"/><line x1="82.65" y1="336.10" x2="82.65" y2="341.60" stroke="#000" stroke-width="1.4"/><line x1="98.02" y1="336.10" x2="98.02" y2="339.00" stroke="#000" stroke-width="1.4"/><line x1="107.01" y1="336.10" x2="107.01" y2="339.00" stroke="#000" stroke-width="1.4"/><line x1="113.39" y1="336.10" x2="113.39" y2="339.00" stroke="#000" stroke-width="1.4"/><line x1="118.33" y1="336.10" x2="118.33" y2="339.00" stroke="#000" stroke-width="1.4"/><line x1="122.37" y1="336.10" x2="122.37" y2="339.00" stroke="#000" stroke-width="1.4"/><line x1="125.79" y1="336.10" x2="125.79" y2="339.00" stroke="#000" stroke-width="1.4"/><line x1="128.75" y1="336.10" x2="128.75" y2="339.00" stroke="#000" stroke-width="1.4"/><line x1="131.36" y1="336.10" x2="131.36" y2="339.00" stroke="#000" stroke-width="1.4"/><line x1="133.70" y1="336.10" x2="133.70" y2="341.60" stroke="#000" stroke-width="1.4"/><line x1="149.07" y1="336.10" x2="149.07" y2="339.00" stroke="#000" stroke-width="1.4"/><line x1="158.06" y1="336.10" x2="158.06" y2="339.00" stroke="#000" stroke-width="1.4"/><line x1="164.44" y1="336.10" x2="164.44" y2="339.00" stroke="#000" stroke-width="1.4"/><line x1="169.38" y1="336.10" x2="169.38" y2="339.00" stroke="#000" stroke-width="1.4"/><line x1="173.42" y1="336.10" x2="173.42" y2="339.00" stroke="#000" stroke-width="1.4"/><line x1="176.84" y1="336.10" x2="176.84" y2="339.00" stroke="#000" stroke-width="1.4"/><line x1="179.80" y1="336.10" x2="179.80" y2="339.00" stroke="#000" stroke-width="1.4"/><line x1="182.41" y1="336.10" x2="182.41" y2="339.00" stroke="#000" stroke-width="1.4"/><line x1="184.75" y1="336.10" x2="184.75" y2="341.60" stroke="#000" stroke-width="1.4"/><line x1="200.12" y1="336.10" x2="200.12" y2="339.00" stroke="#000" stroke-width="1.4"/><line x1="209.11" y1="336.10" x2="209.11" y2="339.00" stroke="#000" stroke-width="1.4"/><line x1="215.49" y1="336.10" x2="215.49" y2="339.00" stroke="#000" stroke-width="1.4"/><line x1="220.43" y1="336.10" x2="220.43" y2="339.00" stroke="#000" stroke-width="1.4"/><line x1="224.47" y1="336.10" x2="224.47" y2="339.00" stroke="#000" stroke-width="1.4"/><line x1="227.89" y1="336.10" x2="227.89" y2="339.00" stroke="#000" stroke-width="1.4"/><line x1="230.85" y1="336.10" x2="230.85" y2="339.00" stroke="#000" stroke-width="1.4"/><line x1="233.46" y1="336.10" x2="233.46" y2="339.00" stroke="#000" stroke-width="1.4"/><line x1="235.80" y1="336.10" x2="235.80" y2="341.60" stroke="#000" stroke-width="1.4"/><text transform="translate(20.94,337.79) rotate(-90) scale(0.820,1)" font-family='"Liberation Sans", sans-serif' font-weight="normal" font-size="11.80" fill="#000" stroke="#000" stroke-width="0.37">0</text><text transform="translate(20.94,317.36) rotate(-90) scale(0.820,1)" font-family='"Liberation Sans", sans-serif' font-weight="normal" font-size="11.80" fill="#000" stroke="#000" stroke-width="0.37">20</text><text transform="translate(20.94,294.04) rotate(-90) scale(0.820,1)" font-family='"Liberation Sans", sans-serif' font-weight="normal" font-size="11.80" fill="#000" stroke="#000" stroke-width="0.37">40</text><text transform="translate(20.94,271.00) rotate(-90) scale(0.820,1)" font-family='"Liberation Sans", sans-serif' font-weight="normal" font-size="11.80" fill="#000" stroke="#000" stroke-width="0.37">60</text><text transform="translate(20.94,247.78) rotate(-90) scale(0.820,1)" font-family='"Liberation Sans", sans-serif' font-weight="normal" font-size="11.80" fill="#000" stroke="#000" stroke-width="0.37">80</text><text transform="translate(20.94,227.45) rotate(-90) scale(0.820,1)" font-family='"Liberation Sans", sans-serif' font-weight="normal" font-size="11.80" fill="#000" stroke="#000" stroke-width="0.37">100</text><text transform="translate(23.80,353.90) scale(0.815,1)" font-family='"Liberation Sans", sans-serif' font-weight="normal" font-size="11.20" fill="#000" stroke="#000" stroke-width="0.37">10</text><text transform="translate(34.73,347.40) scale(0.900,1)" font-family='"Liberation Sans", sans-serif' font-weight="normal" font-size="10.40" fill="#000" stroke="#000" stroke-width="0.33">0</text><text transform="translate(74.85,353.90) scale(0.815,1)" font-family='"Liberation Sans", sans-serif' font-weight="normal" font-size="11.20" fill="#000" stroke="#000" stroke-width="0.37">10</text><text transform="translate(85.44,347.40) scale(0.900,1)" font-family='"Liberation Sans", sans-serif' font-weight="normal" font-size="10.40" fill="#000" stroke="#000" stroke-width="0.33">1</text><text transform="translate(125.90,353.90) scale(0.815,1)" font-family='"Liberation Sans", sans-serif' font-weight="normal" font-size="11.20" fill="#000" stroke="#000" stroke-width="0.37">10</text><text transform="translate(136.73,347.40) scale(0.900,1)" font-family='"Liberation Sans", sans-serif' font-weight="normal" font-size="10.40" fill="#000" stroke="#000" stroke-width="0.33">2</text><text transform="translate(176.95,353.90) scale(0.815,1)" font-family='"Liberation Sans", sans-serif' font-weight="normal" font-size="11.20" fill="#000" stroke="#000" stroke-width="0.37">10</text><text transform="translate(187.89,347.40) scale(0.900,1)" font-family='"Liberation Sans", sans-serif' font-weight="normal" font-size="10.40" fill="#000" stroke="#000" stroke-width="0.33">3</text><text transform="translate(228.00,353.90) scale(0.815,1)" font-family='"Liberation Sans", sans-serif' font-weight="normal" font-size="11.20" fill="#000" stroke="#000" stroke-width="0.37">10</text><text transform="translate(239.09,347.40) scale(0.900,1)" font-family='"Liberation Sans", sans-serif' font-weight="normal" font-size="10.40" fill="#000" stroke="#000" stroke-width="0.33">4</text><line x1="30.60" y1="271.90" x2="112.30" y2="271.90" stroke="#000" stroke-width="1.3"/><line x1="112.30" y1="261.50" x2="112.30" y2="284.40" stroke="#000" stroke-width="1.4"/><line x1="112.30" y1="274.10" x2="236.80" y2="274.10" stroke="#000" stroke-width="1.3"/><rect x="234.2" y="264.3" width="2.6" height="20.2" fill="#5a5a5a"/><text transform="translate(52.25,264.10) scale(1.030,1)" font-family='"Liberation Sans", sans-serif' font-weight="normal" font-size="10.03" fill="#000" stroke="#000" stroke-width="0.49">M1</text><text transform="translate(158.15,269.10) scale(1.074,1)" font-family='"Liberation Sans", sans-serif' font-weight="normal" font-size="10.74" fill="#000" stroke="#000" stroke-width="0.47">M2</text><text transform="translate(176.54,243.34) scale(0.957,1)" font-family='"Liberation Sans", sans-serif' font-weight="normal" font-size="16.53" fill="#000" stroke="#000" stroke-width="0.31">44.6%</text><text transform="translate(124.78,214.03) scale(0.909,1)" font-family='"Liberation Sans", sans-serif' font-weight="bold" font-size="27.26" fill="#000" stroke="#000" stroke-width="0.33">C</text><text transform="translate(8.41,296.60) rotate(-90) scale(1.212,1)" font-family='"Liberation Sans", sans-serif' font-weight="normal" font-size="8.97" fill="#000" stroke="#000" stroke-width="0.21">Counts</text><text transform="translate(105.31,365.89) scale(0.947,1)" font-family='"Liberation Sans", sans-serif' font-weight="normal" font-size="11.44" fill="#000" stroke="#000" stroke-width="0.21">B220 FITC</text><path d="M310.20,300.50 L316.00,299.80 L322.00,300.60 L328.00,299.60 L334.00,300.40 L340.00,299.40 L346.00,300.20 L352.00,299.40 L357.50,300.50 L359.00,306.00 L360.00,312.00 L359.20,318.00 L359.60,323.50 L352.00,324.60 L346.00,325.20 L340.00,324.50 L334.00,325.20 L328.00,324.40 L322.00,325.20 L316.00,324.40 L310.20,325.00 Z" fill="#f00000"/><path d="M423.80,255.50 L428.00,250.50 L433.00,248.50 L440.00,247.80 L446.00,246.50 L452.00,244.30 L457.00,242.40 L463.00,241.00 L469.00,239.50 L472.50,239.00 L472.50,241.00 L469.00,244.00 L463.50,248.50 L457.00,251.50 L451.00,255.00 L445.00,258.00 L438.50,261.00 L432.00,261.20 L427.00,259.50 Z" fill="#f00000"/><path d="M334.0 319.0h1.4v1.4h-1.4zM325.9 322.2h1.4v1.4h-1.4zM311.8 319.7h1.4v1.4h-1.4zM315.5 323.8h1.4v1.4h-1.4zM331.6 320.8h1.4v1.4h-1.4zM343.4 321.2h1.4v1.4h-1.4zM338.7 322.8h1.4v1.4h-1.4zM333.9 323.7h1.4v1.4h-1.4zM337.5 320.9h1.4v1.4h-1.4zM325.8 323.0h1.4v1.4h-1.4zM342.6 319.4h1.4v1.4h-1.4zM320.6 320.6h1.4v1.4h-1.4zM338.6 323.9h1.4v1.4h-1.4zM344.2 324.3h1.4v1.4h-1.4zM346.4 312.4h1.4v1.4h-1.4zM341.9 323.3h1.4v1.4h-1.4zM331.3 323.5h1.4v1.4h-1.4zM329.1 316.5h1.4v1.4h-1.4zM324.8 319.2h1.4v1.4h-1.4zM342.3 319.7h1.4v1.4h-1.4zM344.9 322.4h1.4v1.4h-1.4zM339.0 321.5h1.4v1.4h-1.4zM316.1 315.6h1.4v1.4h-1.4zM338.7 316.8h1.4v1.4h-1.4zM322.1 316.4h1.4v1.4h-1.4zM325.8 321.0h1.4v1.4h-1.4zM339.5 315.5h1.4v1.4h-1.4zM345.2 317.8h1.4v1.4h-1.4zM340.4 314.2h1.4v1.4h-1.4zM337.4 321.4h1.4v1.4h-1.4zM341.3 323.4h1.4v1.4h-1.4zM335.4 322.1h1.4v1.4h-1.4zM320.3 320.8h1.4v1.4h-1.4zM350.6 323.6h1.4v1.4h-1.4zM325.3 322.0h1.4v1.4h-1.4zM324.8 318.2h1.4v1.4h-1.4zM355.0 322.6h1.4v1.4h-1.4zM324.3 322.7h1.4v1.4h-1.4zM315.3 318.2h1.4v1.4h-1.4zM324.5 324.1h1.4v1.4h-1.4zM340.6 315.6h1.4v1.4h-1.4zM340.9 321.2h1.4v1.4h-1.4zM321.9 323.7h1.4v1.4h-1.4zM320.9 323.2h1.4v1.4h-1.4zM311.6 318.4h1.4v1.4h-1.4zM348.2 322.4h1.4v1.4h-1.4zM354.9 315.3h1.4v1.4h-1.4zM311.2 318.5h1.4v1.4h-1.4zM341.8 323.0h1.4v1.4h-1.4zM350.4 319.6h1.4v1.4h-1.4zM344.8 320.2h1.4v1.4h-1.4zM317.5 324.2h1.4v1.4h-1.4zM313.7 318.4h1.4v1.4h-1.4zM318.7 322.7h1.4v1.4h-1.4zM334.2 320.6h1.4v1.4h-1.4zM314.4 302.9h1.3v1.3h-1.3zM313.5 302.6h1.3v1.3h-1.3zM315.6 303.9h1.3v1.3h-1.3zM315.9 316.0h1.3v1.3h-1.3zM316.1 305.1h1.3v1.3h-1.3zM314.4 301.5h1.3v1.3h-1.3zM316.2 312.1h1.3v1.3h-1.3zM310.6 302.7h1.3v1.3h-1.3zM311.0 306.3h1.3v1.3h-1.3zM316.0 313.8h1.3v1.3h-1.3zM312.3 314.1h1.3v1.3h-1.3zM310.4 309.6h1.3v1.3h-1.3z" fill="#ffd8d8"/><path d="M336.1 333.6h1.5v1.5h-1.5zM346.2 291.5h1.5v1.5h-1.5zM329.6 325.2h1.5v1.5h-1.5zM328.8 333.7h1.5v1.5h-1.5zM320.8 294.0h1.5v1.5h-1.5zM335.7 328.7h1.5v1.5h-1.5zM319.7 296.8h1.5v1.5h-1.5zM313.7 291.7h1.5v1.5h-1.5zM327.3 326.8h1.5v1.5h-1.5zM345.2 324.5h1.5v1.5h-1.5zM359.1 299.1h1.5v1.5h-1.5zM333.4 290.0h1.5v1.5h-1.5zM334.0 298.8h1.5v1.5h-1.5zM322.7 298.1h1.5v1.5h-1.5zM353.3 325.4h1.5v1.5h-1.5zM359.8 310.6h1.5v1.5h-1.5zM346.3 294.7h1.5v1.5h-1.5zM348.6 330.2h1.5v1.5h-1.5zM346.8 324.7h1.5v1.5h-1.5zM328.1 324.2h1.5v1.5h-1.5zM362.1 329.9h1.5v1.5h-1.5zM324.3 332.5h1.5v1.5h-1.5zM312.2 324.5h1.5v1.5h-1.5zM356.5 292.8h1.5v1.5h-1.5zM314.0 328.3h1.5v1.5h-1.5zM316.9 296.1h1.5v1.5h-1.5zM346.5 297.4h1.5v1.5h-1.5zM355.6 333.8h1.5v1.5h-1.5zM313.2 294.6h1.5v1.5h-1.5zM359.2 300.4h1.5v1.5h-1.5zM340.3 295.9h1.5v1.5h-1.5zM325.0 290.1h1.5v1.5h-1.5zM314.7 295.4h1.5v1.5h-1.5zM359.3 302.7h1.5v1.5h-1.5zM325.1 329.9h1.5v1.5h-1.5zM330.7 327.3h1.5v1.5h-1.5zM359.8 327.2h1.5v1.5h-1.5zM328.0 290.9h1.5v1.5h-1.5zM343.8 297.4h1.5v1.5h-1.5zM312.8 331.3h1.5v1.5h-1.5zM336.0 296.3h1.5v1.5h-1.5zM323.5 330.3h1.5v1.5h-1.5zM339.7 295.1h1.5v1.5h-1.5zM351.7 328.3h1.5v1.5h-1.5zM352.9 323.8h1.5v1.5h-1.5zM329.9 294.5h1.5v1.5h-1.5zM371.5 299.1h1.5v1.5h-1.5zM323.3 333.3h1.5v1.5h-1.5zM342.8 297.3h1.5v1.5h-1.5zM323.8 333.5h1.5v1.5h-1.5zM331.8 296.4h1.5v1.5h-1.5zM334.5 330.9h1.5v1.5h-1.5zM334.0 329.9h1.5v1.5h-1.5zM337.1 326.0h1.5v1.5h-1.5zM312.3 290.3h1.5v1.5h-1.5zM311.2 299.4h1.5v1.5h-1.5zM342.6 331.3h1.5v1.5h-1.5zM360.0 300.0h1.5v1.5h-1.5zM317.7 327.3h1.5v1.5h-1.5zM359.0 297.8h1.5v1.5h-1.5zM325.1 325.8h1.5v1.5h-1.5zM348.6 331.4h1.5v1.5h-1.5zM361.7 332.2h1.5v1.5h-1.5zM319.0 298.0h1.5v1.5h-1.5zM355.0 297.2h1.5v1.5h-1.5zM323.2 325.2h1.5v1.5h-1.5zM330.2 332.5h1.5v1.5h-1.5zM337.9 326.4h1.5v1.5h-1.5zM352.5 330.5h1.5v1.5h-1.5zM343.3 295.4h1.5v1.5h-1.5zM344.5 331.2h1.5v1.5h-1.5zM351.1 326.6h1.5v1.5h-1.5zM358.1 329.9h1.5v1.5h-1.5zM312.1 327.2h1.5v1.5h-1.5zM361.7 312.2h1.5v1.5h-1.5zM362.4 331.5h1.5v1.5h-1.5zM320.2 329.9h1.5v1.5h-1.5zM312.0 297.0h1.5v1.5h-1.5zM320.9 324.8h1.5v1.5h-1.5zM333.7 328.8h1.5v1.5h-1.5zM348.4 329.2h1.5v1.5h-1.5zM360.8 309.0h1.5v1.5h-1.5zM330.5 288.7h1.5v1.5h-1.5zM353.3 289.7h1.5v1.5h-1.5zM349.0 298.0h1.5v1.5h-1.5zM325.9 295.5h1.5v1.5h-1.5zM313.5 324.5h1.5v1.5h-1.5zM346.5 331.9h1.5v1.5h-1.5zM362.0 321.6h1.5v1.5h-1.5zM359.2 309.5h1.5v1.5h-1.5zM357.2 300.9h1.5v1.5h-1.5zM338.8 324.9h1.5v1.5h-1.5zM314.8 330.5h1.5v1.5h-1.5zM332.7 295.2h1.5v1.5h-1.5zM323.3 293.8h1.5v1.5h-1.5zM338.8 324.2h1.5v1.5h-1.5zM324.1 328.3h1.5v1.5h-1.5zM364.5 296.5h1.5v1.5h-1.5zM342.5 325.3h1.5v1.5h-1.5zM328.6 298.5h1.5v1.5h-1.5zM315.0 324.9h1.5v1.5h-1.5zM311.2 298.1h1.5v1.5h-1.5zM360.0 318.4h1.5v1.5h-1.5zM361.4 315.3h1.5v1.5h-1.5zM340.5 329.4h1.5v1.5h-1.5zM356.7 327.5h1.5v1.5h-1.5zM316.4 332.9h1.5v1.5h-1.5zM316.7 298.1h1.5v1.5h-1.5zM359.7 308.0h1.5v1.5h-1.5zM320.3 324.6h1.5v1.5h-1.5zM317.8 333.9h1.5v1.5h-1.5zM318.2 324.4h1.5v1.5h-1.5zM347.2 299.0h1.5v1.5h-1.5zM317.9 327.0h1.5v1.5h-1.5zM371.8 328.0h1.5v1.5h-1.5zM319.0 326.9h1.5v1.5h-1.5zM316.4 295.2h1.5v1.5h-1.5zM361.6 304.6h1.5v1.5h-1.5zM338.9 329.3h1.5v1.5h-1.5zM354.1 327.3h1.5v1.5h-1.5zM337.6 332.8h1.5v1.5h-1.5zM355.3 331.5h1.5v1.5h-1.5zM352.1 324.7h1.5v1.5h-1.5zM358.0 329.4h1.5v1.5h-1.5zM355.2 298.4h1.5v1.5h-1.5zM316.3 297.0h1.5v1.5h-1.5zM352.5 331.6h1.5v1.5h-1.5zM347.6 290.5h1.5v1.5h-1.5zM323.8 295.6h1.5v1.5h-1.5zM317.7 333.1h1.5v1.5h-1.5zM367.8 294.6h1.5v1.5h-1.5zM357.7 299.8h1.5v1.5h-1.5zM357.6 289.2h1.5v1.5h-1.5zM353.1 326.2h1.5v1.5h-1.5zM320.7 328.3h1.5v1.5h-1.5zM335.4 324.8h1.5v1.5h-1.5zM364.2 329.5h1.5v1.5h-1.5zM346.6 325.3h1.5v1.5h-1.5zM359.8 331.5h1.5v1.5h-1.5zM340.7 298.2h1.5v1.5h-1.5zM359.9 325.1h1.5v1.5h-1.5zM315.4 325.8h1.5v1.5h-1.5zM322.2 297.5h1.5v1.5h-1.5zM344.2 295.5h1.5v1.5h-1.5zM351.9 324.9h1.5v1.5h-1.5zM344.4 289.6h1.5v1.5h-1.5zM321.7 292.5h1.5v1.5h-1.5zM346.9 328.7h1.5v1.5h-1.5zM317.6 332.8h1.5v1.5h-1.5zM376.0 298.8h1.5v1.5h-1.5zM312.7 324.8h1.5v1.5h-1.5zM352.9 334.0h1.5v1.5h-1.5zM320.8 299.6h1.5v1.5h-1.5zM332.3 326.5h1.5v1.5h-1.5zM351.6 295.2h1.5v1.5h-1.5zM329.2 333.7h1.5v1.5h-1.5zM309.7 326.9h1.5v1.5h-1.5zM357.2 297.7h1.5v1.5h-1.5zM357.0 326.0h1.5v1.5h-1.5zM313.3 325.9h1.5v1.5h-1.5zM310.6 330.5h1.5v1.5h-1.5zM310.9 333.2h1.5v1.5h-1.5zM321.8 293.4h1.5v1.5h-1.5zM356.4 297.6h1.5v1.5h-1.5zM343.4 289.6h1.5v1.5h-1.5zM319.5 294.4h1.5v1.5h-1.5zM353.1 297.9h1.5v1.5h-1.5zM316.9 299.0h1.5v1.5h-1.5zM359.0 295.8h1.5v1.5h-1.5zM359.3 323.6h1.5v1.5h-1.5zM318.1 328.7h1.5v1.5h-1.5zM331.1 324.9h1.5v1.5h-1.5zM351.4 334.5h1.5v1.5h-1.5zM345.1 326.2h1.5v1.5h-1.5zM343.4 297.3h1.5v1.5h-1.5zM316.7 293.3h1.5v1.5h-1.5zM344.6 326.5h1.5v1.5h-1.5zM363.6 291.5h1.5v1.5h-1.5zM333.3 296.4h1.5v1.5h-1.5zM357.7 298.8h1.5v1.5h-1.5zM325.9 296.6h1.5v1.5h-1.5zM322.0 333.3h1.5v1.5h-1.5zM334.8 332.7h1.5v1.5h-1.5zM350.3 298.4h1.5v1.5h-1.5zM335.7 292.6h1.5v1.5h-1.5zM312.3 290.5h1.5v1.5h-1.5zM317.0 325.1h1.5v1.5h-1.5zM359.6 326.8h1.5v1.5h-1.5zM315.6 332.2h1.5v1.5h-1.5zM337.1 297.9h1.5v1.5h-1.5zM339.4 331.7h1.5v1.5h-1.5zM329.6 329.3h1.5v1.5h-1.5zM360.9 326.9h1.5v1.5h-1.5zM339.6 293.8h1.5v1.5h-1.5zM320.8 292.0h1.5v1.5h-1.5zM338.6 297.4h1.5v1.5h-1.5zM320.8 324.7h1.5v1.5h-1.5zM359.3 303.7h1.5v1.5h-1.5zM365.3 299.7h1.5v1.5h-1.5zM351.1 326.0h1.5v1.5h-1.5zM346.7 299.1h1.5v1.5h-1.5zM347.3 324.3h1.5v1.5h-1.5zM355.1 326.6h1.5v1.5h-1.5zM373.1 321.9h1.5v1.5h-1.5zM363.7 332.3h1.5v1.5h-1.5zM368.0 325.5h1.5v1.5h-1.5zM321.8 326.3h1.5v1.5h-1.5zM320.2 327.5h1.5v1.5h-1.5zM368.0 316.7h1.5v1.5h-1.5zM331.6 298.6h1.5v1.5h-1.5zM349.0 290.7h1.5v1.5h-1.5zM346.5 331.8h1.5v1.5h-1.5zM338.2 328.6h1.5v1.5h-1.5zM342.0 330.0h1.5v1.5h-1.5zM332.4 294.9h1.5v1.5h-1.5zM359.8 318.5h1.5v1.5h-1.5zM347.3 334.1h1.5v1.5h-1.5zM331.6 292.9h1.5v1.5h-1.5zM315.6 326.1h1.5v1.5h-1.5zM360.7 324.3h1.5v1.5h-1.5zM372.6 294.7h1.5v1.5h-1.5zM315.6 289.9h1.5v1.5h-1.5zM334.0 295.5h1.5v1.5h-1.5zM359.0 331.0h1.5v1.5h-1.5zM311.5 324.4h1.5v1.5h-1.5zM332.6 325.5h1.5v1.5h-1.5zM331.2 330.2h1.5v1.5h-1.5zM336.5 328.4h1.5v1.5h-1.5zM325.1 298.0h1.5v1.5h-1.5zM342.1 329.6h1.5v1.5h-1.5zM333.7 324.5h1.5v1.5h-1.5zM329.5 289.8h1.5v1.5h-1.5zM362.6 320.4h1.5v1.5h-1.5zM338.4 293.5h1.5v1.5h-1.5zM342.8 330.9h1.5v1.5h-1.5zM358.6 301.2h1.5v1.5h-1.5zM327.3 291.8h1.5v1.5h-1.5zM337.6 333.4h1.5v1.5h-1.5zM319.1 334.6h1.5v1.5h-1.5zM350.3 331.3h1.5v1.5h-1.5zM325.7 297.8h1.5v1.5h-1.5zM345.9 298.9h1.5v1.5h-1.5zM327.3 330.5h1.5v1.5h-1.5zM341.5 298.8h1.5v1.5h-1.5zM344.9 326.1h1.5v1.5h-1.5zM321.1 326.5h1.5v1.5h-1.5zM341.6 325.4h1.5v1.5h-1.5zM310.7 297.9h1.5v1.5h-1.5zM325.8 327.0h1.5v1.5h-1.5zM352.2 328.2h1.5v1.5h-1.5zM337.9 325.1h1.5v1.5h-1.5zM353.0 325.9h1.5v1.5h-1.5zM343.8 326.6h1.5v1.5h-1.5zM359.2 307.1h1.5v1.5h-1.5zM361.1 324.1h1.5v1.5h-1.5zM326.8 297.9h1.5v1.5h-1.5zM327.9 325.3h1.5v1.5h-1.5zM357.2 325.6h1.5v1.5h-1.5zM340.0 331.7h1.5v1.5h-1.5zM323.7 327.2h1.5v1.5h-1.5zM315.9 324.7h1.5v1.5h-1.5zM312.3 327.1h1.5v1.5h-1.5zM319.9 330.6h1.5v1.5h-1.5zM375.2 306.7h1.5v1.5h-1.5zM342.8 331.4h1.5v1.5h-1.5zM342.0 328.4h1.5v1.5h-1.5zM345.8 292.7h1.5v1.5h-1.5zM324.8 331.2h1.5v1.5h-1.5zM349.7 333.1h1.5v1.5h-1.5zM372.8 318.9h1.5v1.5h-1.5zM321.5 324.9h1.5v1.5h-1.5zM354.0 296.2h1.5v1.5h-1.5zM315.8 329.1h1.5v1.5h-1.5zM323.2 294.5h1.5v1.5h-1.5zM362.1 321.3h1.5v1.5h-1.5zM355.9 326.1h1.5v1.5h-1.5zM310.3 331.9h1.5v1.5h-1.5zM336.8 292.7h1.5v1.5h-1.5zM358.7 319.9h1.5v1.5h-1.5zM332.6 295.1h1.5v1.5h-1.5zM352.2 297.8h1.5v1.5h-1.5zM366.2 324.8h1.5v1.5h-1.5zM345.2 332.2h1.5v1.5h-1.5zM365.6 325.1h1.5v1.5h-1.5zM342.3 289.4h1.5v1.5h-1.5zM353.8 325.8h1.5v1.5h-1.5zM322.2 326.9h1.5v1.5h-1.5zM339.3 332.7h1.5v1.5h-1.5zM354.9 330.4h1.5v1.5h-1.5zM333.9 333.6h1.5v1.5h-1.5zM359.6 318.2h1.5v1.5h-1.5zM338.9 293.6h1.5v1.5h-1.5zM352.2 324.5h1.5v1.5h-1.5zM360.1 319.8h1.5v1.5h-1.5zM355.9 324.3h1.5v1.5h-1.5zM335.9 325.7h1.5v1.5h-1.5zM322.0 328.7h1.5v1.5h-1.5zM353.0 329.1h1.5v1.5h-1.5zM346.7 325.8h1.5v1.5h-1.5zM324.1 325.1h1.5v1.5h-1.5zM311.6 324.4h1.5v1.5h-1.5zM313.8 298.1h1.5v1.5h-1.5zM376.0 302.7h1.5v1.5h-1.5zM316.4 293.6h1.5v1.5h-1.5zM365.9 294.8h1.5v1.5h-1.5zM362.2 310.0h1.5v1.5h-1.5zM369.1 313.2h1.5v1.5h-1.5zM349.2 294.5h1.5v1.5h-1.5zM357.4 299.7h1.5v1.5h-1.5zM359.2 290.4h1.5v1.5h-1.5zM375.0 325.6h1.5v1.5h-1.5zM327.2 295.7h1.5v1.5h-1.5zM316.6 324.8h1.5v1.5h-1.5zM346.8 326.4h1.5v1.5h-1.5zM363.1 292.2h1.5v1.5h-1.5zM375.1 324.0h1.5v1.5h-1.5zM360.0 301.3h1.5v1.5h-1.5zM362.8 313.1h1.5v1.5h-1.5zM355.8 333.2h1.5v1.5h-1.5zM357.5 334.2h1.5v1.5h-1.5zM360.0 300.1h1.5v1.5h-1.5zM313.8 291.7h1.5v1.5h-1.5zM333.8 295.2h1.5v1.5h-1.5zM327.9 324.0h1.5v1.5h-1.5zM315.9 331.5h1.5v1.5h-1.5zM321.7 295.3h1.5v1.5h-1.5zM347.7 298.9h1.5v1.5h-1.5zM310.5 327.9h1.5v1.5h-1.5zM318.8 324.9h1.5v1.5h-1.5zM360.8 299.0h1.5v1.5h-1.5zM341.2 328.7h1.5v1.5h-1.5zM354.0 327.1h1.5v1.5h-1.5zM357.2 293.0h1.5v1.5h-1.5zM341.7 296.6h1.5v1.5h-1.5zM339.0 294.1h1.5v1.5h-1.5zM321.0 328.4h1.5v1.5h-1.5zM330.8 298.1h1.5v1.5h-1.5zM341.8 296.9h1.5v1.5h-1.5zM359.2 313.4h1.5v1.5h-1.5zM334.2 330.2h1.5v1.5h-1.5zM348.6 331.9h1.5v1.5h-1.5zM320.4 326.7h1.5v1.5h-1.5zM357.2 295.0h1.5v1.5h-1.5zM317.6 332.8h1.5v1.5h-1.5zM348.5 329.4h1.5v1.5h-1.5zM343.9 294.0h1.5v1.5h-1.5zM354.6 325.4h1.5v1.5h-1.5zM358.8 305.2h1.5v1.5h-1.5zM356.8 333.1h1.5v1.5h-1.5zM360.9 302.5h1.5v1.5h-1.5zM358.2 301.2h1.5v1.5h-1.5zM309.8 299.2h1.5v1.5h-1.5zM357.2 334.1h1.5v1.5h-1.5zM326.9 291.2h1.5v1.5h-1.5zM347.1 291.0h1.5v1.5h-1.5zM357.6 299.2h1.5v1.5h-1.5zM347.4 295.0h1.5v1.5h-1.5zM350.7 330.1h1.5v1.5h-1.5zM327.0 295.9h1.5v1.5h-1.5zM340.5 297.7h1.5v1.5h-1.5zM354.3 298.9h1.5v1.5h-1.5zM361.2 308.8h1.5v1.5h-1.5zM361.0 294.9h1.5v1.5h-1.5zM360.8 308.2h1.5v1.5h-1.5zM316.7 326.1h1.5v1.5h-1.5zM341.0 334.2h1.5v1.5h-1.5zM359.4 304.4h1.5v1.5h-1.5zM334.9 293.7h1.5v1.5h-1.5zM358.3 323.4h1.5v1.5h-1.5zM335.1 327.3h1.5v1.5h-1.5zM332.3 324.7h1.5v1.5h-1.5zM311.3 325.3h1.5v1.5h-1.5zM317.9 330.7h1.5v1.5h-1.5zM357.1 331.4h1.5v1.5h-1.5zM358.6 297.2h1.5v1.5h-1.5zM347.1 325.2h1.5v1.5h-1.5zM340.9 292.9h1.5v1.5h-1.5zM359.7 299.6h1.5v1.5h-1.5zM357.8 323.1h1.5v1.5h-1.5zM357.2 301.2h1.5v1.5h-1.5zM339.2 292.6h1.5v1.5h-1.5zM362.9 319.8h1.5v1.5h-1.5zM326.0 297.8h1.5v1.5h-1.5zM329.9 296.1h1.5v1.5h-1.5zM315.2 297.5h1.5v1.5h-1.5zM343.4 297.1h1.5v1.5h-1.5zM349.2 295.3h1.5v1.5h-1.5zM319.8 328.4h1.5v1.5h-1.5zM333.9 329.8h1.5v1.5h-1.5zM331.8 326.4h1.5v1.5h-1.5zM313.5 325.7h1.5v1.5h-1.5zM351.8 293.8h1.5v1.5h-1.5zM354.6 333.2h1.5v1.5h-1.5zM321.3 296.9h1.5v1.5h-1.5zM362.2 312.3h1.5v1.5h-1.5zM320.2 328.1h1.5v1.5h-1.5zM328.0 331.1h1.5v1.5h-1.5zM317.2 328.7h1.5v1.5h-1.5zM358.2 300.5h1.5v1.5h-1.5zM357.9 298.5h1.5v1.5h-1.5zM317.6 297.2h1.5v1.5h-1.5zM341.3 324.8h1.5v1.5h-1.5zM359.4 299.3h1.5v1.5h-1.5zM360.6 315.8h1.5v1.5h-1.5zM317.5 327.1h1.5v1.5h-1.5zM310.4 298.0h1.5v1.5h-1.5zM327.5 329.2h1.5v1.5h-1.5zM327.7 295.5h1.5v1.5h-1.5zM325.8 326.6h1.5v1.5h-1.5zM343.9 331.7h1.5v1.5h-1.5zM338.3 296.3h1.5v1.5h-1.5zM317.8 327.6h1.5v1.5h-1.5zM315.7 330.2h1.5v1.5h-1.5zM354.5 298.9h1.5v1.5h-1.5zM342.8 325.9h1.5v1.5h-1.5zM357.3 301.4h1.5v1.5h-1.5zM338.9 288.8h1.5v1.5h-1.5zM354.5 288.8h1.5v1.5h-1.5zM348.9 298.9h1.5v1.5h-1.5zM328.0 324.1h1.5v1.5h-1.5zM361.9 312.5h1.5v1.5h-1.5zM357.0 326.3h1.5v1.5h-1.5zM358.5 298.4h1.5v1.5h-1.5zM358.7 298.2h1.5v1.5h-1.5zM316.8 325.3h1.5v1.5h-1.5zM330.6 333.5h1.5v1.5h-1.5zM351.4 297.3h1.5v1.5h-1.5zM343.7 294.3h1.5v1.5h-1.5zM333.9 330.2h1.5v1.5h-1.5zM341.7 334.1h1.5v1.5h-1.5zM335.0 299.1h1.5v1.5h-1.5zM335.5 325.4h1.5v1.5h-1.5zM339.1 334.3h1.5v1.5h-1.5zM340.5 298.4h1.5v1.5h-1.5zM344.1 333.8h1.5v1.5h-1.5zM334.5 328.3h1.5v1.5h-1.5zM331.6 327.5h1.5v1.5h-1.5zM337.5 332.7h1.5v1.5h-1.5zM311.5 298.8h1.5v1.5h-1.5zM350.9 294.8h1.5v1.5h-1.5zM350.9 324.5h1.5v1.5h-1.5zM358.3 301.0h1.5v1.5h-1.5zM321.4 326.7h1.5v1.5h-1.5zM310.6 329.6h1.5v1.5h-1.5zM317.6 296.0h1.5v1.5h-1.5zM350.6 328.3h1.5v1.5h-1.5zM362.2 309.6h1.5v1.5h-1.5zM336.1 299.0h1.5v1.5h-1.5zM359.5 328.9h1.5v1.5h-1.5zM358.6 318.9h1.5v1.5h-1.5zM333.2 326.0h1.5v1.5h-1.5zM348.3 298.7h1.5v1.5h-1.5zM309.7 325.4h1.5v1.5h-1.5zM355.0 326.1h1.5v1.5h-1.5zM354.7 332.5h1.5v1.5h-1.5zM343.7 295.5h1.5v1.5h-1.5zM343.3 327.1h1.5v1.5h-1.5zM371.9 297.8h1.5v1.5h-1.5zM324.1 324.6h1.5v1.5h-1.5zM358.3 299.2h1.5v1.5h-1.5zM362.4 321.9h1.5v1.5h-1.5zM337.1 331.5h1.5v1.5h-1.5zM338.8 324.0h1.5v1.5h-1.5zM341.4 296.8h1.5v1.5h-1.5zM346.9 328.4h1.5v1.5h-1.5zM351.9 327.4h1.5v1.5h-1.5zM328.8 325.0h1.5v1.5h-1.5zM346.1 325.8h1.5v1.5h-1.5zM334.3 296.9h1.5v1.5h-1.5zM329.7 333.1h1.5v1.5h-1.5zM328.2 293.7h1.5v1.5h-1.5zM339.6 328.9h1.5v1.5h-1.5zM310.6 295.6h1.5v1.5h-1.5zM315.0 292.8h1.5v1.5h-1.5zM325.7 327.3h1.5v1.5h-1.5zM357.9 301.4h1.5v1.5h-1.5zM326.8 326.1h1.5v1.5h-1.5zM363.8 314.3h1.5v1.5h-1.5zM350.8 297.6h1.5v1.5h-1.5zM359.2 318.6h1.5v1.5h-1.5zM334.2 325.4h1.5v1.5h-1.5zM324.5 327.7h1.5v1.5h-1.5zM347.9 324.5h1.5v1.5h-1.5zM362.7 317.7h1.5v1.5h-1.5zM337.2 332.5h1.5v1.5h-1.5zM310.4 293.0h1.5v1.5h-1.5zM337.9 327.1h1.5v1.5h-1.5zM363.2 316.2h1.5v1.5h-1.5zM360.6 317.0h1.5v1.5h-1.5zM356.8 332.2h1.5v1.5h-1.5zM331.0 329.0h1.5v1.5h-1.5zM361.4 331.7h1.5v1.5h-1.5zM320.0 294.8h1.5v1.5h-1.5zM317.7 325.5h1.5v1.5h-1.5zM355.4 327.7h1.5v1.5h-1.5zM360.9 302.7h1.5v1.5h-1.5zM328.4 324.1h1.5v1.5h-1.5zM332.9 329.1h1.5v1.5h-1.5zM354.0 328.8h1.5v1.5h-1.5zM325.8 324.9h1.5v1.5h-1.5zM359.1 298.5h1.5v1.5h-1.5zM347.5 328.3h1.5v1.5h-1.5zM334.6 326.8h1.5v1.5h-1.5zM360.0 310.2h1.5v1.5h-1.5zM322.7 325.5h1.5v1.5h-1.5zM315.5 333.6h1.5v1.5h-1.5zM323.4 291.1h1.5v1.5h-1.5zM332.7 324.6h1.5v1.5h-1.5zM325.4 324.5h1.5v1.5h-1.5zM353.4 299.0h1.5v1.5h-1.5zM332.8 325.8h1.5v1.5h-1.5zM325.0 327.4h1.5v1.5h-1.5zM357.7 302.5h1.5v1.5h-1.5zM310.2 329.0h1.5v1.5h-1.5zM361.1 303.1h1.5v1.5h-1.5zM354.1 323.8h1.5v1.5h-1.5zM354.4 298.1h1.5v1.5h-1.5zM319.4 293.1h1.5v1.5h-1.5zM331.1 297.8h1.5v1.5h-1.5zM327.8 298.4h1.5v1.5h-1.5zM334.2 294.1h1.5v1.5h-1.5zM358.1 304.5h1.5v1.5h-1.5zM354.1 297.5h1.5v1.5h-1.5zM338.0 333.8h1.5v1.5h-1.5zM321.2 325.2h1.5v1.5h-1.5zM351.3 328.3h1.5v1.5h-1.5zM341.1 331.5h1.5v1.5h-1.5zM336.2 332.7h1.5v1.5h-1.5zM346.1 331.9h1.5v1.5h-1.5zM316.4 324.7h1.5v1.5h-1.5zM312.5 331.6h1.5v1.5h-1.5zM310.6 331.1h1.5v1.5h-1.5zM349.4 326.1h1.5v1.5h-1.5zM311.5 331.1h1.5v1.5h-1.5zM359.1 298.3h1.5v1.5h-1.5zM313.4 334.5h1.5v1.5h-1.5zM375.8 298.5h1.5v1.5h-1.5zM349.4 324.3h1.5v1.5h-1.5zM360.3 315.0h1.5v1.5h-1.5zM374.7 292.8h1.5v1.5h-1.5zM356.3 325.3h1.5v1.5h-1.5zM314.1 325.9h1.5v1.5h-1.5zM339.0 326.1h1.5v1.5h-1.5zM332.5 290.2h1.5v1.5h-1.5zM347.1 296.5h1.5v1.5h-1.5zM351.0 330.1h1.5v1.5h-1.5zM328.0 324.6h1.5v1.5h-1.5zM318.4 298.5h1.5v1.5h-1.5zM336.1 324.3h1.5v1.5h-1.5zM338.1 331.0h1.5v1.5h-1.5zM318.6 329.4h1.5v1.5h-1.5zM344.8 298.2h1.5v1.5h-1.5zM323.7 326.5h1.5v1.5h-1.5zM332.8 325.0h1.5v1.5h-1.5zM317.2 290.7h1.5v1.5h-1.5zM326.7 327.6h1.5v1.5h-1.5zM315.4 334.0h1.5v1.5h-1.5zM317.0 296.7h1.5v1.5h-1.5zM369.4 310.2h1.5v1.5h-1.5zM355.5 325.2h1.5v1.5h-1.5zM330.9 294.8h1.5v1.5h-1.5zM336.6 325.5h1.5v1.5h-1.5zM362.3 315.0h1.5v1.5h-1.5zM340.4 326.0h1.5v1.5h-1.5zM359.5 329.3h1.5v1.5h-1.5zM312.2 325.9h1.5v1.5h-1.5zM315.6 331.0h1.5v1.5h-1.5zM352.5 325.8h1.5v1.5h-1.5zM371.9 291.0h1.5v1.5h-1.5zM325.4 324.5h1.5v1.5h-1.5zM342.2 325.4h1.5v1.5h-1.5zM347.3 325.7h1.5v1.5h-1.5zM357.4 326.5h1.5v1.5h-1.5zM376.2 318.5h1.5v1.5h-1.5zM358.2 326.6h1.5v1.5h-1.5zM324.4 298.9h1.5v1.5h-1.5zM342.3 296.7h1.5v1.5h-1.5zM359.0 333.9h1.5v1.5h-1.5zM317.1 327.5h1.5v1.5h-1.5zM326.8 326.4h1.5v1.5h-1.5zM337.4 332.1h1.5v1.5h-1.5zM332.9 295.3h1.5v1.5h-1.5zM354.4 327.4h1.5v1.5h-1.5zM347.0 327.7h1.5v1.5h-1.5zM339.0 297.2h1.5v1.5h-1.5zM356.1 293.6h1.5v1.5h-1.5zM339.0 334.0h1.5v1.5h-1.5zM362.9 297.1h1.5v1.5h-1.5zM337.9 297.2h1.5v1.5h-1.5zM309.7 291.9h1.5v1.5h-1.5zM337.3 332.8h1.5v1.5h-1.5zM327.2 324.5h1.5v1.5h-1.5zM368.7 311.7h1.5v1.5h-1.5zM358.8 320.9h1.5v1.5h-1.5zM311.9 326.9h1.5v1.5h-1.5zM370.0 326.1h1.5v1.5h-1.5zM317.6 289.3h1.5v1.5h-1.5zM325.3 328.1h1.5v1.5h-1.5zM337.4 324.1h1.5v1.5h-1.5zM359.8 299.1h1.5v1.5h-1.5zM332.4 334.1h1.5v1.5h-1.5zM347.5 292.2h1.5v1.5h-1.5zM330.4 294.3h1.5v1.5h-1.5zM350.8 298.1h1.5v1.5h-1.5zM351.9 331.6h1.5v1.5h-1.5zM348.8 324.8h1.5v1.5h-1.5zM318.0 293.8h1.5v1.5h-1.5zM353.6 294.7h1.5v1.5h-1.5zM335.2 298.1h1.5v1.5h-1.5zM334.9 291.8h1.5v1.5h-1.5zM314.6 324.0h1.5v1.5h-1.5zM321.9 294.9h1.5v1.5h-1.5zM320.9 299.8h1.5v1.5h-1.5zM345.0 289.9h1.5v1.5h-1.5zM314.9 324.2h1.5v1.5h-1.5zM332.3 332.2h1.5v1.5h-1.5zM314.3 296.5h1.5v1.5h-1.5zM342.6 325.3h1.5v1.5h-1.5zM318.4 298.1h1.5v1.5h-1.5zM365.0 304.0h1.5v1.5h-1.5zM328.6 330.9h1.5v1.5h-1.5zM328.0 329.8h1.5v1.5h-1.5zM317.4 329.6h1.5v1.5h-1.5zM348.0 328.4h1.5v1.5h-1.5zM320.6 299.7h1.5v1.5h-1.5zM359.4 330.3h1.5v1.5h-1.5zM344.2 324.8h1.5v1.5h-1.5zM328.3 333.9h1.5v1.5h-1.5zM337.9 331.2h1.5v1.5h-1.5zM368.3 299.1h1.5v1.5h-1.5zM349.7 294.1h1.5v1.5h-1.5zM351.4 328.1h1.5v1.5h-1.5zM310.2 333.4h1.5v1.5h-1.5zM327.3 328.5h1.5v1.5h-1.5zM350.7 324.1h1.5v1.5h-1.5zM317.2 298.9h1.5v1.5h-1.5zM314.9 293.6h1.5v1.5h-1.5zM347.4 328.0h1.5v1.5h-1.5zM316.5 298.6h1.5v1.5h-1.5zM372.3 311.1h1.5v1.5h-1.5zM333.2 297.7h1.5v1.5h-1.5zM365.5 316.3h1.5v1.5h-1.5zM367.5 321.1h1.5v1.5h-1.5zM314.6 328.6h1.5v1.5h-1.5zM345.7 330.2h1.5v1.5h-1.5zM357.4 299.2h1.5v1.5h-1.5zM367.8 324.4h1.5v1.5h-1.5zM328.5 325.7h1.5v1.5h-1.5zM327.5 327.0h1.5v1.5h-1.5zM360.3 327.3h1.5v1.5h-1.5zM328.1 331.5h1.5v1.5h-1.5zM366.2 328.0h1.5v1.5h-1.5zM354.4 296.9h1.5v1.5h-1.5zM329.0 334.4h1.5v1.5h-1.5zM314.7 332.3h1.5v1.5h-1.5zM335.6 328.0h1.5v1.5h-1.5zM340.4 332.7h1.5v1.5h-1.5zM363.1 308.5h1.5v1.5h-1.5zM328.4 332.5h1.5v1.5h-1.5zM334.0 331.3h1.5v1.5h-1.5zM338.3 292.6h1.5v1.5h-1.5zM319.4 297.1h1.5v1.5h-1.5zM315.5 324.3h1.5v1.5h-1.5zM348.1 329.0h1.5v1.5h-1.5zM344.6 326.3h1.5v1.5h-1.5zM346.6 297.9h1.5v1.5h-1.5zM341.4 298.6h1.5v1.5h-1.5zM360.7 316.2h1.5v1.5h-1.5zM332.2 326.5h1.5v1.5h-1.5zM336.0 325.2h1.5v1.5h-1.5zM345.7 328.8h1.5v1.5h-1.5zM316.1 327.4h1.5v1.5h-1.5zM360.1 319.8h1.5v1.5h-1.5zM333.2 293.1h1.5v1.5h-1.5zM310.3 332.9h1.5v1.5h-1.5zM346.1 332.8h1.5v1.5h-1.5zM313.8 298.1h1.5v1.5h-1.5zM366.6 312.4h1.5v1.5h-1.5zM320.8 327.2h1.5v1.5h-1.5zM334.1 332.4h1.5v1.5h-1.5zM373.6 297.9h1.5v1.5h-1.5zM310.0 294.4h1.5v1.5h-1.5zM324.3 297.7h1.5v1.5h-1.5zM348.0 326.7h1.5v1.5h-1.5zM348.7 295.1h1.5v1.5h-1.5zM326.9 298.1h1.5v1.5h-1.5zM358.8 301.0h1.5v1.5h-1.5zM367.2 329.2h1.5v1.5h-1.5zM316.6 326.6h1.5v1.5h-1.5zM332.3 294.5h1.5v1.5h-1.5zM359.1 314.6h1.5v1.5h-1.5zM318.5 329.5h1.5v1.5h-1.5zM359.8 325.2h1.5v1.5h-1.5zM335.5 333.5h1.5v1.5h-1.5zM319.9 294.3h1.5v1.5h-1.5zM315.6 294.3h1.5v1.5h-1.5zM363.1 329.1h1.5v1.5h-1.5zM329.6 326.4h1.5v1.5h-1.5zM312.7 332.6h1.5v1.5h-1.5zM370.9 323.3h1.5v1.5h-1.5zM354.6 299.3h1.5v1.5h-1.5zM344.1 298.5h1.5v1.5h-1.5zM355.7 329.2h1.5v1.5h-1.5zM362.1 319.9h1.5v1.5h-1.5zM363.4 303.4h1.5v1.5h-1.5zM310.0 297.9h1.5v1.5h-1.5zM337.9 333.8h1.5v1.5h-1.5zM321.6 299.7h1.5v1.5h-1.5zM346.5 292.4h1.5v1.5h-1.5zM328.7 333.3h1.5v1.5h-1.5zM346.0 325.4h1.5v1.5h-1.5zM326.8 323.8h1.5v1.5h-1.5zM355.4 297.7h1.5v1.5h-1.5zM336.0 298.8h1.5v1.5h-1.5zM359.4 324.6h1.5v1.5h-1.5zM349.6 297.4h1.5v1.5h-1.5zM352.5 330.5h1.5v1.5h-1.5zM354.3 328.5h1.5v1.5h-1.5zM343.7 325.2h1.5v1.5h-1.5zM323.5 295.3h1.5v1.5h-1.5zM334.5 334.6h1.5v1.5h-1.5zM310.6 297.5h1.5v1.5h-1.5zM310.9 329.0h1.5v1.5h-1.5zM353.0 324.4h1.5v1.5h-1.5zM321.2 330.0h1.5v1.5h-1.5zM330.4 326.8h1.5v1.5h-1.5zM324.8 298.7h1.5v1.5h-1.5zM343.0 327.5h1.5v1.5h-1.5zM312.4 297.5h1.5v1.5h-1.5zM330.3 327.7h1.5v1.5h-1.5zM324.2 294.3h1.5v1.5h-1.5zM358.8 315.1h1.5v1.5h-1.5zM354.3 332.3h1.5v1.5h-1.5zM338.5 327.2h1.5v1.5h-1.5zM316.5 331.0h1.5v1.5h-1.5zM349.5 298.9h1.5v1.5h-1.5zM359.3 309.4h1.5v1.5h-1.5zM359.7 326.2h1.5v1.5h-1.5zM333.5 324.5h1.5v1.5h-1.5zM360.5 327.5h1.5v1.5h-1.5zM336.1 328.1h1.5v1.5h-1.5zM344.6 299.1h1.5v1.5h-1.5zM355.2 330.7h1.5v1.5h-1.5zM358.9 306.2h1.5v1.5h-1.5zM342.0 327.2h1.5v1.5h-1.5zM359.8 317.3h1.5v1.5h-1.5zM309.9 326.6h1.5v1.5h-1.5zM334.5 299.2h1.5v1.5h-1.5zM324.6 296.5h1.5v1.5h-1.5zM368.9 291.9h1.5v1.5h-1.5zM362.8 303.5h1.5v1.5h-1.5zM330.1 331.5h1.5v1.5h-1.5zM333.7 324.7h1.5v1.5h-1.5zM357.7 323.3h1.5v1.5h-1.5zM357.9 298.7h1.5v1.5h-1.5zM334.3 324.6h1.5v1.5h-1.5zM352.7 334.5h1.5v1.5h-1.5zM309.9 329.8h1.5v1.5h-1.5zM358.2 326.9h1.5v1.5h-1.5zM352.4 297.2h1.5v1.5h-1.5zM359.8 305.9h1.5v1.5h-1.5zM312.1 293.6h1.5v1.5h-1.5zM345.0 331.9h1.5v1.5h-1.5zM354.4 295.6h1.5v1.5h-1.5zM355.1 333.0h1.5v1.5h-1.5zM355.0 298.8h1.5v1.5h-1.5zM322.6 327.5h1.5v1.5h-1.5zM344.0 325.5h1.5v1.5h-1.5zM359.4 300.7h1.5v1.5h-1.5zM361.3 294.1h1.5v1.5h-1.5zM310.6 326.0h1.5v1.5h-1.5zM320.2 328.0h1.5v1.5h-1.5zM359.2 322.7h1.5v1.5h-1.5zM324.3 290.0h1.5v1.5h-1.5zM326.5 292.9h1.5v1.5h-1.5zM368.2 303.5h1.5v1.5h-1.5zM311.7 298.0h1.5v1.5h-1.5zM329.0 332.3h1.5v1.5h-1.5zM374.7 301.1h1.5v1.5h-1.5zM360.6 297.6h1.5v1.5h-1.5zM316.7 327.7h1.5v1.5h-1.5zM354.2 293.0h1.5v1.5h-1.5zM343.3 331.9h1.5v1.5h-1.5zM314.8 330.1h1.5v1.5h-1.5zM334.1 296.3h1.5v1.5h-1.5zM323.8 331.7h1.5v1.5h-1.5zM331.9 329.1h1.5v1.5h-1.5zM338.4 288.8h1.5v1.5h-1.5zM339.8 291.1h1.5v1.5h-1.5zM347.6 290.6h1.5v1.5h-1.5zM349.5 294.1h1.5v1.5h-1.5zM362.0 320.6h1.5v1.5h-1.5zM340.5 330.8h1.5v1.5h-1.5zM359.5 332.3h1.5v1.5h-1.5zM355.8 325.8h1.5v1.5h-1.5zM348.9 325.7h1.5v1.5h-1.5zM319.3 296.5h1.5v1.5h-1.5zM360.6 301.4h1.5v1.5h-1.5zM344.6 327.5h1.5v1.5h-1.5zM368.3 292.6h1.5v1.5h-1.5zM336.7 299.0h1.5v1.5h-1.5zM359.6 311.9h1.5v1.5h-1.5zM321.8 328.9h1.5v1.5h-1.5zM351.5 329.3h1.5v1.5h-1.5zM355.9 330.4h1.5v1.5h-1.5zM329.5 297.2h1.5v1.5h-1.5zM370.7 307.7h1.5v1.5h-1.5zM311.6 299.1h1.5v1.5h-1.5zM345.3 333.9h1.5v1.5h-1.5zM313.2 328.7h1.5v1.5h-1.5zM316.7 298.9h1.5v1.5h-1.5zM334.0 328.5h1.5v1.5h-1.5zM355.1 296.8h1.5v1.5h-1.5zM327.6 330.7h1.5v1.5h-1.5zM318.9 326.9h1.5v1.5h-1.5zM360.7 312.9h1.5v1.5h-1.5zM310.4 327.1h1.5v1.5h-1.5zM339.1 290.0h1.5v1.5h-1.5zM309.6 329.9h1.5v1.5h-1.5zM348.0 298.9h1.5v1.5h-1.5zM352.4 333.9h1.5v1.5h-1.5zM329.4 293.4h1.5v1.5h-1.5zM364.1 325.3h1.5v1.5h-1.5zM348.9 327.8h1.5v1.5h-1.5zM365.4 318.7h1.5v1.5h-1.5zM331.8 329.5h1.5v1.5h-1.5zM359.0 320.2h1.5v1.5h-1.5zM353.5 326.7h1.5v1.5h-1.5zM335.5 324.8h1.5v1.5h-1.5zM359.9 303.2h1.5v1.5h-1.5zM324.9 326.0h1.5v1.5h-1.5zM339.3 329.0h1.5v1.5h-1.5zM339.6 333.7h1.5v1.5h-1.5zM337.8 326.9h1.5v1.5h-1.5zM356.7 291.7h1.5v1.5h-1.5zM338.6 324.0h1.5v1.5h-1.5zM359.2 296.8h1.5v1.5h-1.5zM356.0 323.6h1.5v1.5h-1.5zM332.6 297.4h1.5v1.5h-1.5zM342.4 295.3h1.5v1.5h-1.5zM370.8 299.3h1.5v1.5h-1.5zM357.3 298.8h1.5v1.5h-1.5zM321.9 325.5h1.5v1.5h-1.5zM319.9 299.2h1.5v1.5h-1.5zM347.0 324.4h1.5v1.5h-1.5zM337.9 327.0h1.5v1.5h-1.5zM346.4 298.4h1.5v1.5h-1.5zM349.2 326.7h1.5v1.5h-1.5zM338.7 296.0h1.5v1.5h-1.5zM357.3 325.2h1.5v1.5h-1.5zM344.3 332.1h1.5v1.5h-1.5zM322.4 327.8h1.5v1.5h-1.5zM371.4 297.9h1.5v1.5h-1.5zM353.5 288.7h1.5v1.5h-1.5zM364.4 328.6h1.5v1.5h-1.5zM315.6 330.3h1.5v1.5h-1.5zM328.7 293.6h1.5v1.5h-1.5zM327.2 297.5h1.5v1.5h-1.5zM330.6 298.6h1.5v1.5h-1.5zM334.2 288.8h1.5v1.5h-1.5zM337.3 324.8h1.5v1.5h-1.5zM346.0 334.2h1.5v1.5h-1.5zM349.7 327.2h1.5v1.5h-1.5zM333.1 299.3h1.5v1.5h-1.5zM346.6 296.5h1.5v1.5h-1.5zM346.2 326.1h1.5v1.5h-1.5zM322.0 298.4h1.5v1.5h-1.5zM338.4 325.2h1.5v1.5h-1.5zM334.4 299.0h1.5v1.5h-1.5zM315.2 298.6h1.5v1.5h-1.5zM358.8 319.9h1.5v1.5h-1.5zM329.9 296.9h1.5v1.5h-1.5zM357.1 297.6h1.5v1.5h-1.5zM360.8 306.7h1.5v1.5h-1.5zM368.1 319.2h1.5v1.5h-1.5zM337.4 298.6h1.5v1.5h-1.5zM341.0 328.8h1.5v1.5h-1.5zM355.8 296.2h1.5v1.5h-1.5zM359.5 320.3h1.5v1.5h-1.5zM344.4 294.5h1.5v1.5h-1.5zM359.2 319.3h1.5v1.5h-1.5zM339.9 324.4h1.5v1.5h-1.5zM327.8 325.9h1.5v1.5h-1.5zM322.0 325.5h1.5v1.5h-1.5zM312.6 324.5h1.5v1.5h-1.5zM340.6 325.5h1.5v1.5h-1.5zM335.3 298.4h1.5v1.5h-1.5zM314.8 298.4h1.5v1.5h-1.5zM337.8 333.8h1.5v1.5h-1.5zM325.8 325.1h1.5v1.5h-1.5zM331.6 326.8h1.5v1.5h-1.5zM309.7 325.4h1.5v1.5h-1.5zM361.2 313.0h1.5v1.5h-1.5zM330.1 332.1h1.5v1.5h-1.5zM354.2 289.9h1.5v1.5h-1.5zM322.0 291.2h1.5v1.5h-1.5zM309.6 331.1h1.5v1.5h-1.5zM346.7 297.3h1.5v1.5h-1.5zM343.6 333.4h1.5v1.5h-1.5zM339.6 288.9h1.5v1.5h-1.5zM336.0 331.0h1.5v1.5h-1.5zM324.7 325.7h1.5v1.5h-1.5zM370.8 328.3h1.5v1.5h-1.5zM329.1 325.5h1.5v1.5h-1.5zM357.6 299.9h1.5v1.5h-1.5zM318.8 298.2h1.5v1.5h-1.5zM314.5 330.1h1.5v1.5h-1.5zM345.4 330.2h1.5v1.5h-1.5zM319.5 296.5h1.5v1.5h-1.5zM338.4 296.6h1.5v1.5h-1.5zM351.8 292.5h1.5v1.5h-1.5zM317.6 329.8h1.5v1.5h-1.5zM354.7 325.7h1.5v1.5h-1.5zM364.4 320.2h1.5v1.5h-1.5zM352.1 290.5h1.5v1.5h-1.5zM357.6 327.6h1.5v1.5h-1.5zM323.1 298.2h1.5v1.5h-1.5zM326.4 329.5h1.5v1.5h-1.5zM318.9 329.1h1.5v1.5h-1.5zM312.1 298.9h1.5v1.5h-1.5zM348.2 333.3h1.5v1.5h-1.5zM326.8 332.7h1.5v1.5h-1.5zM327.5 334.0h1.5v1.5h-1.5zM361.8 302.8h1.5v1.5h-1.5zM318.8 324.7h1.5v1.5h-1.5zM358.0 326.7h1.5v1.5h-1.5zM321.1 298.4h1.5v1.5h-1.5zM355.4 298.8h1.5v1.5h-1.5zM336.4 290.9h1.5v1.5h-1.5zM353.3 326.5h1.5v1.5h-1.5zM320.4 299.5h1.5v1.5h-1.5zM323.2 289.0h1.5v1.5h-1.5zM331.6 295.6h1.5v1.5h-1.5zM357.3 330.3h1.5v1.5h-1.5zM339.7 327.3h1.5v1.5h-1.5zM324.6 329.6h1.5v1.5h-1.5zM338.0 326.6h1.5v1.5h-1.5zM351.8 296.5h1.5v1.5h-1.5zM326.0 324.1h1.5v1.5h-1.5zM357.5 299.0h1.5v1.5h-1.5zM338.8 325.1h1.5v1.5h-1.5zM367.2 311.4h1.5v1.5h-1.5zM332.6 325.8h1.5v1.5h-1.5zM319.5 289.4h1.5v1.5h-1.5zM345.3 298.2h1.5v1.5h-1.5zM357.2 331.3h1.5v1.5h-1.5zM325.5 295.2h1.5v1.5h-1.5zM337.6 296.4h1.5v1.5h-1.5zM331.1 291.1h1.5v1.5h-1.5zM319.1 298.2h1.5v1.5h-1.5zM359.2 324.5h1.5v1.5h-1.5zM356.9 299.0h1.5v1.5h-1.5zM333.8 299.3h1.5v1.5h-1.5zM346.5 327.8h1.5v1.5h-1.5zM363.4 321.3h1.5v1.5h-1.5zM361.5 304.5h1.5v1.5h-1.5zM332.8 299.3h1.5v1.5h-1.5zM346.3 299.2h1.5v1.5h-1.5zM316.2 297.4h1.5v1.5h-1.5zM373.6 317.9h1.5v1.5h-1.5zM311.8 324.8h1.5v1.5h-1.5zM355.3 330.7h1.5v1.5h-1.5zM354.6 298.3h1.5v1.5h-1.5zM332.4 332.2h1.5v1.5h-1.5zM313.9 289.1h1.5v1.5h-1.5zM365.4 295.7h1.5v1.5h-1.5zM357.3 334.1h1.5v1.5h-1.5zM356.6 325.2h1.5v1.5h-1.5zM345.9 327.6h1.5v1.5h-1.5zM350.1 297.9h1.5v1.5h-1.5zM332.6 297.9h1.5v1.5h-1.5zM343.1 298.1h1.5v1.5h-1.5zM350.1 329.3h1.5v1.5h-1.5zM358.0 325.4h1.5v1.5h-1.5zM324.4 332.5h1.5v1.5h-1.5zM330.7 329.7h1.5v1.5h-1.5zM335.5 332.9h1.5v1.5h-1.5zM359.6 318.5h1.5v1.5h-1.5zM327.2 295.7h1.5v1.5h-1.5zM311.9 297.9h1.5v1.5h-1.5zM319.1 298.1h1.5v1.5h-1.5zM335.0 325.3h1.5v1.5h-1.5zM340.4 298.3h1.5v1.5h-1.5zM343.7 330.2h1.5v1.5h-1.5zM334.8 297.2h1.5v1.5h-1.5zM345.9 297.6h1.5v1.5h-1.5zM363.9 284.2h1.4v1.4h-1.4zM368.6 280.6h1.4v1.4h-1.4zM367.2 280.5h1.4v1.4h-1.4zM372.3 275.5h1.4v1.4h-1.4zM364.2 281.7h1.4v1.4h-1.4zM360.9 284.8h1.4v1.4h-1.4zM358.5 286.7h1.4v1.4h-1.4zM365.8 279.2h1.4v1.4h-1.4zM370.4 276.0h1.4v1.4h-1.4zM362.2 284.1h1.4v1.4h-1.4zM361.8 284.5h1.4v1.4h-1.4zM371.2 279.0h1.4v1.4h-1.4zM362.8 282.1h1.4v1.4h-1.4zM367.0 281.1h1.4v1.4h-1.4zM372.2 274.9h1.4v1.4h-1.4zM357.9 286.5h1.4v1.4h-1.4zM358.3 286.8h1.4v1.4h-1.4zM361.7 285.4h1.4v1.4h-1.4zM357.9 285.1h1.4v1.4h-1.4zM357.7 286.4h1.4v1.4h-1.4zM365.1 281.9h1.4v1.4h-1.4zM367.0 279.5h1.4v1.4h-1.4zM366.0 282.0h1.4v1.4h-1.4zM366.5 278.6h1.4v1.4h-1.4zM364.4 281.6h1.4v1.4h-1.4zM365.4 280.5h1.4v1.4h-1.4zM365.7 282.3h1.4v1.4h-1.4zM358.8 285.2h1.4v1.4h-1.4zM361.4 282.9h1.4v1.4h-1.4zM359.6 281.4h1.4v1.4h-1.4zM366.3 287.5h1.4v1.4h-1.4zM354.6 285.1h1.4v1.4h-1.4zM363.8 285.0h1.4v1.4h-1.4zM367.3 282.5h1.4v1.4h-1.4zM349.6 282.1h1.4v1.4h-1.4zM363.5 284.9h1.4v1.4h-1.4zM374.5 285.2h1.4v1.4h-1.4zM367.1 282.0h1.4v1.4h-1.4zM370.9 279.7h1.4v1.4h-1.4zM373.4 283.4h1.4v1.4h-1.4zM361.6 285.6h1.4v1.4h-1.4zM364.1 288.8h1.4v1.4h-1.4zM352.6 279.0h1.4v1.4h-1.4zM365.5 280.7h1.4v1.4h-1.4zM355.5 288.8h1.4v1.4h-1.4zM363.7 281.4h1.4v1.4h-1.4zM359.2 280.7h1.4v1.4h-1.4zM356.2 279.7h1.4v1.4h-1.4zM375.9 286.0h1.4v1.4h-1.4zM359.1 279.4h1.4v1.4h-1.4zM375.8 287.6h1.4v1.4h-1.4zM351.9 287.4h1.4v1.4h-1.4zM364.3 288.6h1.4v1.4h-1.4zM361.3 282.9h1.4v1.4h-1.4zM349.5 284.3h1.4v1.4h-1.4zM355.8 287.6h1.4v1.4h-1.4zM424.0 257.0h1.5v1.5h-1.5zM472.4 242.3h1.5v1.5h-1.5zM468.8 237.2h1.5v1.5h-1.5zM471.6 241.5h1.5v1.5h-1.5zM428.4 249.2h1.5v1.5h-1.5zM450.7 242.1h1.5v1.5h-1.5zM430.2 263.3h1.5v1.5h-1.5zM464.3 249.4h1.5v1.5h-1.5zM454.7 239.2h1.5v1.5h-1.5zM426.3 261.9h1.5v1.5h-1.5zM439.4 262.0h1.5v1.5h-1.5zM468.1 237.5h1.5v1.5h-1.5zM428.5 261.1h1.5v1.5h-1.5zM455.1 241.3h1.5v1.5h-1.5zM474.4 241.3h1.5v1.5h-1.5zM444.0 257.5h1.5v1.5h-1.5zM452.5 254.7h1.5v1.5h-1.5zM421.0 256.9h1.5v1.5h-1.5zM472.6 236.9h1.5v1.5h-1.5zM434.3 242.9h1.5v1.5h-1.5zM467.3 244.3h1.5v1.5h-1.5zM427.3 249.0h1.5v1.5h-1.5zM449.1 242.4h1.5v1.5h-1.5zM452.4 241.2h1.5v1.5h-1.5zM428.4 248.1h1.5v1.5h-1.5zM455.4 253.0h1.5v1.5h-1.5zM455.7 240.7h1.5v1.5h-1.5zM450.3 255.9h1.5v1.5h-1.5zM467.0 246.2h1.5v1.5h-1.5zM422.1 252.5h1.5v1.5h-1.5zM431.1 265.4h1.5v1.5h-1.5zM458.9 234.9h1.5v1.5h-1.5zM452.3 256.7h1.5v1.5h-1.5zM462.7 240.1h1.5v1.5h-1.5zM472.6 241.4h1.5v1.5h-1.5zM461.8 239.7h1.5v1.5h-1.5zM440.4 260.0h1.5v1.5h-1.5zM464.2 238.6h1.5v1.5h-1.5zM435.9 261.2h1.5v1.5h-1.5zM429.1 248.5h1.5v1.5h-1.5zM426.2 247.7h1.5v1.5h-1.5zM446.2 261.0h1.5v1.5h-1.5zM445.1 243.7h1.5v1.5h-1.5zM463.1 249.1h1.5v1.5h-1.5zM423.6 257.1h1.5v1.5h-1.5zM438.0 246.8h1.5v1.5h-1.5zM440.6 260.4h1.5v1.5h-1.5zM471.8 237.8h1.5v1.5h-1.5zM429.8 260.3h1.5v1.5h-1.5zM471.8 238.2h1.5v1.5h-1.5zM433.5 246.9h1.5v1.5h-1.5zM454.3 239.9h1.5v1.5h-1.5zM452.1 235.4h1.5v1.5h-1.5zM467.8 238.8h1.5v1.5h-1.5zM448.0 255.9h1.5v1.5h-1.5zM445.9 243.3h1.5v1.5h-1.5zM450.2 256.9h1.5v1.5h-1.5zM425.7 248.8h1.5v1.5h-1.5zM446.4 258.0h1.5v1.5h-1.5zM454.6 252.5h1.5v1.5h-1.5zM421.5 256.8h1.5v1.5h-1.5zM461.8 254.2h1.5v1.5h-1.5zM432.3 261.2h1.5v1.5h-1.5zM456.3 241.4h1.5v1.5h-1.5zM457.6 240.3h1.5v1.5h-1.5zM457.7 255.3h1.5v1.5h-1.5zM451.3 242.0h1.5v1.5h-1.5zM469.0 238.4h1.5v1.5h-1.5zM431.3 247.5h1.5v1.5h-1.5zM468.3 236.9h1.5v1.5h-1.5zM431.0 246.5h1.5v1.5h-1.5zM428.5 259.9h1.5v1.5h-1.5zM445.3 243.0h1.5v1.5h-1.5zM451.7 253.9h1.5v1.5h-1.5zM424.9 257.4h1.5v1.5h-1.5zM463.4 238.4h1.5v1.5h-1.5zM443.2 258.4h1.5v1.5h-1.5zM466.7 233.6h1.5v1.5h-1.5zM444.3 245.6h1.5v1.5h-1.5zM429.0 266.4h1.5v1.5h-1.5zM423.6 257.5h1.5v1.5h-1.5zM421.0 255.3h1.5v1.5h-1.5zM450.4 259.9h1.5v1.5h-1.5zM435.5 265.0h1.5v1.5h-1.5zM476.2 237.8h1.5v1.5h-1.5zM431.3 248.0h1.5v1.5h-1.5zM439.8 259.6h1.5v1.5h-1.5zM452.9 240.6h1.5v1.5h-1.5zM439.6 243.9h1.5v1.5h-1.5zM428.0 260.2h1.5v1.5h-1.5zM471.8 240.4h1.5v1.5h-1.5zM447.8 244.8h1.5v1.5h-1.5zM439.3 260.3h1.5v1.5h-1.5zM425.3 260.8h1.5v1.5h-1.5zM441.0 244.4h1.5v1.5h-1.5zM438.9 259.8h1.5v1.5h-1.5zM455.2 251.5h1.5v1.5h-1.5zM456.7 251.6h1.5v1.5h-1.5zM448.8 243.4h1.5v1.5h-1.5zM472.1 238.5h1.5v1.5h-1.5zM424.4 258.1h1.5v1.5h-1.5zM449.4 258.4h1.5v1.5h-1.5zM429.0 261.3h1.5v1.5h-1.5zM423.6 256.2h1.5v1.5h-1.5zM450.1 243.6h1.5v1.5h-1.5zM440.8 261.0h1.5v1.5h-1.5zM452.2 241.5h1.5v1.5h-1.5zM446.4 256.9h1.5v1.5h-1.5zM470.5 238.2h1.5v1.5h-1.5zM460.0 249.9h1.5v1.5h-1.5zM445.9 245.3h1.5v1.5h-1.5zM429.2 247.3h1.5v1.5h-1.5zM456.4 255.4h1.5v1.5h-1.5zM461.5 239.8h1.5v1.5h-1.5zM433.5 261.2h1.5v1.5h-1.5zM420.6 257.0h1.5v1.5h-1.5zM470.3 242.5h1.5v1.5h-1.5zM439.7 246.3h1.5v1.5h-1.5zM426.3 260.9h1.5v1.5h-1.5zM471.6 241.6h1.5v1.5h-1.5zM440.5 262.3h1.5v1.5h-1.5zM453.9 253.7h1.5v1.5h-1.5zM455.0 253.7h1.5v1.5h-1.5zM425.6 251.6h1.5v1.5h-1.5zM424.8 261.0h1.5v1.5h-1.5zM432.4 245.1h1.5v1.5h-1.5zM472.8 235.6h1.5v1.5h-1.5zM465.7 245.8h1.5v1.5h-1.5zM452.5 253.2h1.5v1.5h-1.5zM447.2 241.4h1.5v1.5h-1.5zM424.9 260.1h1.5v1.5h-1.5zM444.7 243.6h1.5v1.5h-1.5zM447.3 244.8h1.5v1.5h-1.5zM462.3 248.9h1.5v1.5h-1.5zM434.0 246.2h1.5v1.5h-1.5zM434.4 245.8h1.5v1.5h-1.5zM425.1 251.5h1.5v1.5h-1.5zM464.4 248.2h1.5v1.5h-1.5zM421.5 254.6h1.5v1.5h-1.5zM451.0 254.1h1.5v1.5h-1.5zM421.9 257.6h1.5v1.5h-1.5zM434.8 260.5h1.5v1.5h-1.5zM422.4 258.4h1.5v1.5h-1.5zM454.8 255.0h1.5v1.5h-1.5zM455.4 251.8h1.5v1.5h-1.5zM451.8 255.3h1.5v1.5h-1.5zM466.6 237.9h1.5v1.5h-1.5zM454.7 242.1h1.5v1.5h-1.5zM424.0 259.2h1.5v1.5h-1.5zM455.9 251.3h1.5v1.5h-1.5zM474.6 242.6h1.5v1.5h-1.5zM467.7 245.7h1.5v1.5h-1.5zM447.2 256.6h1.5v1.5h-1.5zM451.5 253.7h1.5v1.5h-1.5zM426.4 248.9h1.5v1.5h-1.5zM420.4 255.3h1.5v1.5h-1.5zM451.8 257.3h1.5v1.5h-1.5zM424.8 257.3h1.5v1.5h-1.5zM451.9 242.4h1.5v1.5h-1.5zM430.4 260.3h1.5v1.5h-1.5zM423.3 250.0h1.5v1.5h-1.5zM463.5 249.8h1.5v1.5h-1.5zM457.1 235.7h1.5v1.5h-1.5zM419.0 253.8h1.5v1.5h-1.5zM466.3 238.1h1.5v1.5h-1.5zM433.0 261.9h1.5v1.5h-1.5zM469.0 245.3h1.5v1.5h-1.5zM452.7 253.4h1.5v1.5h-1.5zM453.7 241.1h1.5v1.5h-1.5zM436.7 244.2h1.5v1.5h-1.5zM453.8 241.1h1.5v1.5h-1.5zM442.1 245.8h1.5v1.5h-1.5zM423.4 250.7h1.5v1.5h-1.5zM473.1 235.8h1.5v1.5h-1.5zM451.2 242.7h1.5v1.5h-1.5zM448.0 256.0h1.5v1.5h-1.5zM440.5 245.4h1.5v1.5h-1.5zM471.7 235.7h1.5v1.5h-1.5zM422.7 253.3h1.5v1.5h-1.5zM430.8 245.2h1.5v1.5h-1.5zM450.9 241.7h1.5v1.5h-1.5zM473.2 236.8h1.5v1.5h-1.5zM451.1 253.8h1.5v1.5h-1.5zM448.5 242.2h1.5v1.5h-1.5zM437.1 265.3h1.5v1.5h-1.5zM431.7 243.1h1.5v1.5h-1.5zM444.7 244.9h1.5v1.5h-1.5zM455.4 252.4h1.5v1.5h-1.5zM457.8 252.0h1.5v1.5h-1.5zM449.7 255.7h1.5v1.5h-1.5zM458.2 238.0h1.5v1.5h-1.5zM436.7 246.2h1.5v1.5h-1.5zM462.0 249.7h1.5v1.5h-1.5zM463.1 239.8h1.5v1.5h-1.5zM445.7 244.7h1.5v1.5h-1.5zM460.6 249.1h1.5v1.5h-1.5zM437.2 261.8h1.5v1.5h-1.5zM474.9 239.5h1.5v1.5h-1.5zM470.7 243.3h1.5v1.5h-1.5zM454.1 252.2h1.5v1.5h-1.5zM449.9 242.5h1.5v1.5h-1.5zM426.8 259.9h1.5v1.5h-1.5zM439.0 242.6h1.5v1.5h-1.5zM468.9 244.4h1.5v1.5h-1.5zM461.2 251.6h1.5v1.5h-1.5zM427.3 248.5h1.5v1.5h-1.5zM441.2 258.9h1.5v1.5h-1.5zM458.5 240.5h1.5v1.5h-1.5zM444.2 245.0h1.5v1.5h-1.5zM442.3 246.0h1.5v1.5h-1.5zM462.1 239.1h1.5v1.5h-1.5zM466.0 245.3h1.5v1.5h-1.5zM468.8 244.2h1.5v1.5h-1.5zM428.1 249.0h1.5v1.5h-1.5zM448.9 255.9h1.5v1.5h-1.5zM429.6 245.1h1.5v1.5h-1.5zM464.0 251.1h1.5v1.5h-1.5zM438.7 245.8h1.5v1.5h-1.5zM439.9 261.4h1.5v1.5h-1.5zM424.0 252.1h1.5v1.5h-1.5zM437.5 244.6h1.5v1.5h-1.5zM467.1 246.7h1.5v1.5h-1.5zM473.3 238.8h1.5v1.5h-1.5zM447.6 244.5h1.5v1.5h-1.5zM468.8 237.9h1.5v1.5h-1.5zM431.5 247.1h1.5v1.5h-1.5zM450.6 255.6h1.5v1.5h-1.5zM438.8 263.4h1.5v1.5h-1.5zM473.7 237.9h1.5v1.5h-1.5zM468.5 249.5h1.5v1.5h-1.5zM432.1 263.3h1.5v1.5h-1.5zM445.6 244.1h1.5v1.5h-1.5zM458.3 240.6h1.5v1.5h-1.5zM452.2 241.2h1.5v1.5h-1.5zM454.2 252.1h1.5v1.5h-1.5zM465.1 239.3h1.5v1.5h-1.5zM434.2 247.4h1.5v1.5h-1.5zM451.5 238.8h1.5v1.5h-1.5zM459.7 249.7h1.5v1.5h-1.5zM437.7 261.8h1.5v1.5h-1.5zM471.2 237.5h1.5v1.5h-1.5zM451.3 242.1h1.5v1.5h-1.5zM444.5 242.4h1.5v1.5h-1.5zM429.8 248.7h1.5v1.5h-1.5zM456.1 252.3h1.5v1.5h-1.5zM432.5 261.3h1.5v1.5h-1.5zM457.3 235.0h1.5v1.5h-1.5zM431.0 260.9h1.5v1.5h-1.5zM462.6 237.1h1.5v1.5h-1.5zM451.0 258.3h1.5v1.5h-1.5zM442.6 245.1h1.5v1.5h-1.5zM435.2 262.3h1.5v1.5h-1.5zM463.4 251.3h1.5v1.5h-1.5zM464.0 248.2h1.5v1.5h-1.5zM454.9 257.0h1.5v1.5h-1.5zM457.6 252.4h1.5v1.5h-1.5zM453.4 256.4h1.5v1.5h-1.5zM469.9 238.2h1.5v1.5h-1.5zM445.6 257.0h1.5v1.5h-1.5zM449.9 242.7h1.5v1.5h-1.5zM422.3 258.2h1.5v1.5h-1.5zM428.5 260.1h1.5v1.5h-1.5zM448.2 243.4h1.5v1.5h-1.5zM459.7 240.3h1.5v1.5h-1.5zM427.4 261.0h1.5v1.5h-1.5zM468.5 244.6h1.5v1.5h-1.5zM434.5 260.5h1.5v1.5h-1.5zM463.3 248.0h1.5v1.5h-1.5zM456.9 252.8h1.5v1.5h-1.5zM457.7 250.6h1.5v1.5h-1.5zM422.9 255.5h1.5v1.5h-1.5zM430.1 260.7h1.5v1.5h-1.5zM461.9 248.5h1.5v1.5h-1.5zM454.1 253.4h1.5v1.5h-1.5zM440.6 260.4h1.5v1.5h-1.5zM463.5 235.7h1.5v1.5h-1.5zM464.1 247.0h1.5v1.5h-1.5zM433.5 262.2h1.5v1.5h-1.5zM468.5 238.1h1.5v1.5h-1.5zM457.8 234.6h1.5v1.5h-1.5zM467.5 237.6h1.5v1.5h-1.5zM425.1 252.3h1.5v1.5h-1.5zM435.5 243.8h1.5v1.5h-1.5zM453.3 252.5h1.5v1.5h-1.5zM455.0 255.0h1.5v1.5h-1.5zM442.7 258.3h1.5v1.5h-1.5zM464.1 238.9h1.5v1.5h-1.5zM444.5 242.6h1.5v1.5h-1.5zM442.7 245.1h1.5v1.5h-1.5zM430.3 263.0h1.5v1.5h-1.5zM457.5 250.2h1.5v1.5h-1.5zM465.7 236.8h1.5v1.5h-1.5zM444.7 245.0h1.5v1.5h-1.5zM470.1 246.8h1.5v1.5h-1.5zM474.5 237.0h1.5v1.5h-1.5zM448.2 256.5h1.5v1.5h-1.5zM423.3 253.9h1.5v1.5h-1.5zM443.4 246.0h1.5v1.5h-1.5zM443.6 244.7h1.5v1.5h-1.5zM472.3 241.3h1.5v1.5h-1.5zM446.7 256.4h1.5v1.5h-1.5zM454.8 240.9h1.5v1.5h-1.5zM452.2 255.0h1.5v1.5h-1.5zM425.3 257.9h1.5v1.5h-1.5zM435.5 246.2h1.5v1.5h-1.5zM434.6 261.0h1.5v1.5h-1.5zM466.8 238.4h1.5v1.5h-1.5zM470.5 244.9h1.5v1.5h-1.5zM420.2 253.0h1.5v1.5h-1.5zM425.0 258.3h1.5v1.5h-1.5zM425.3 251.3h1.5v1.5h-1.5zM422.7 255.3h1.5v1.5h-1.5zM453.9 241.3h1.5v1.5h-1.5zM430.6 248.1h1.5v1.5h-1.5zM424.4 261.2h1.5v1.5h-1.5zM445.1 243.7h1.5v1.5h-1.5zM453.4 242.7h1.5v1.5h-1.5zM457.1 250.8h1.5v1.5h-1.5zM469.5 244.2h1.5v1.5h-1.5zM470.0 242.7h1.5v1.5h-1.5zM423.8 253.5h1.5v1.5h-1.5zM433.1 247.6h1.5v1.5h-1.5zM460.1 249.8h1.5v1.5h-1.5zM442.1 259.5h1.5v1.5h-1.5zM425.5 249.4h1.5v1.5h-1.5zM453.1 239.9h1.5v1.5h-1.5zM428.2 259.8h1.5v1.5h-1.5zM426.5 260.1h1.5v1.5h-1.5zM446.3 244.0h1.5v1.5h-1.5zM437.0 247.1h1.5v1.5h-1.5zM440.0 246.5h1.5v1.5h-1.5zM440.5 246.1h1.5v1.5h-1.5zM455.5 254.1h1.5v1.5h-1.5zM452.5 254.0h1.5v1.5h-1.5zM430.8 260.6h1.5v1.5h-1.5zM449.1 244.2h1.5v1.5h-1.5zM433.4 260.6h1.5v1.5h-1.5zM451.0 260.5h1.5v1.5h-1.5zM448.1 238.3h1.5v1.5h-1.5zM438.8 260.0h1.5v1.5h-1.5zM426.4 261.3h1.5v1.5h-1.5zM453.6 238.0h1.5v1.5h-1.5zM440.9 244.5h1.5v1.5h-1.5zM424.7 252.8h1.5v1.5h-1.5zM430.2 260.2h1.5v1.5h-1.5zM443.6 257.6h1.5v1.5h-1.5zM446.2 257.5h1.5v1.5h-1.5zM446.2 258.1h1.5v1.5h-1.5zM435.5 260.8h1.5v1.5h-1.5zM455.2 252.0h1.5v1.5h-1.5zM445.8 257.1h1.5v1.5h-1.5zM420.8 249.6h1.5v1.5h-1.5zM424.1 252.8h1.5v1.5h-1.5zM466.4 248.2h1.5v1.5h-1.5zM446.2 256.5h1.5v1.5h-1.5zM430.2 260.8h1.5v1.5h-1.5zM425.6 261.1h1.5v1.5h-1.5zM446.5 243.4h1.5v1.5h-1.5zM420.5 254.2h1.5v1.5h-1.5zM457.3 238.6h1.5v1.5h-1.5zM430.2 261.5h1.5v1.5h-1.5zM468.2 248.7h1.5v1.5h-1.5zM471.7 240.9h1.5v1.5h-1.5zM455.6 241.5h1.5v1.5h-1.5zM440.9 261.1h1.5v1.5h-1.5zM471.5 241.3h1.5v1.5h-1.5zM428.2 247.2h1.5v1.5h-1.5zM426.1 263.9h1.5v1.5h-1.5zM469.8 242.8h1.5v1.5h-1.5zM434.9 260.5h1.5v1.5h-1.5zM449.6 256.0h1.5v1.5h-1.5zM424.8 249.1h1.5v1.5h-1.5zM467.1 237.0h1.5v1.5h-1.5zM427.1 247.8h1.5v1.5h-1.5zM453.6 253.2h1.5v1.5h-1.5zM438.5 266.1h1.5v1.5h-1.5zM441.3 259.6h1.5v1.5h-1.5zM473.0 248.4h1.5v1.5h-1.5zM427.4 248.4h1.5v1.5h-1.5zM451.0 255.7h1.5v1.5h-1.5zM432.8 262.7h1.5v1.5h-1.5zM449.0 243.6h1.5v1.5h-1.5zM432.1 260.8h1.5v1.5h-1.5zM456.8 241.1h1.5v1.5h-1.5zM430.8 246.5h1.5v1.5h-1.5zM467.8 245.5h1.5v1.5h-1.5zM445.0 257.8h1.5v1.5h-1.5zM454.1 241.2h1.5v1.5h-1.5zM433.5 247.6h1.5v1.5h-1.5zM471.6 238.2h1.5v1.5h-1.5zM465.4 247.0h1.5v1.5h-1.5zM456.8 240.0h1.5v1.5h-1.5zM464.0 249.2h1.5v1.5h-1.5zM449.0 255.0h1.5v1.5h-1.5zM470.8 242.1h1.5v1.5h-1.5zM434.6 246.5h1.5v1.5h-1.5zM463.1 247.8h1.5v1.5h-1.5zM466.9 245.5h1.5v1.5h-1.5zM451.5 254.0h1.5v1.5h-1.5zM426.3 259.0h1.5v1.5h-1.5zM446.9 242.0h1.5v1.5h-1.5zM442.5 244.5h1.5v1.5h-1.5zM454.6 242.0h1.5v1.5h-1.5zM437.1 261.3h1.5v1.5h-1.5zM455.0 254.9h1.5v1.5h-1.5zM443.2 241.3h1.5v1.5h-1.5zM431.3 260.9h1.5v1.5h-1.5zM471.0 237.5h1.5v1.5h-1.5zM446.9 256.0h1.5v1.5h-1.5zM421.8 256.6h1.5v1.5h-1.5zM450.4 255.2h1.5v1.5h-1.5zM441.9 264.1h1.5v1.5h-1.5zM422.0 249.7h1.5v1.5h-1.5zM443.7 260.7h1.5v1.5h-1.5zM451.9 241.6h1.5v1.5h-1.5zM426.4 244.9h1.5v1.5h-1.5zM439.9 259.5h1.5v1.5h-1.5zM456.2 237.2h1.5v1.5h-1.5zM473.0 240.3h1.5v1.5h-1.5zM459.6 249.7h1.5v1.5h-1.5z" fill="#f00000"/><path d="M417.1 262.3h1.4v1.4h-1.4zM421.1 264.0h1.4v1.4h-1.4zM433.8 241.2h1.4v1.4h-1.4zM416.6 258.5h1.4v1.4h-1.4zM441.9 263.7h1.4v1.4h-1.4zM418.5 246.2h1.4v1.4h-1.4zM416.0 263.5h1.4v1.4h-1.4zM439.4 242.8h1.4v1.4h-1.4zM463.3 234.5h1.4v1.4h-1.4zM416.0 245.2h1.4v1.4h-1.4zM411.5 265.1h1.4v1.4h-1.4zM385.5 275.1h1.4v1.4h-1.4zM392.0 273.2h1.4v1.4h-1.4zM386.1 277.2h1.4v1.4h-1.4zM387.7 276.3h1.4v1.4h-1.4zM386.2 267.3h1.4v1.4h-1.4zM415.2 255.6h1.4v1.4h-1.4zM411.9 267.1h1.4v1.4h-1.4zM426.1 268.2h1.4v1.4h-1.4zM421.8 260.5h1.4v1.4h-1.4zM393.1 277.4h1.4v1.4h-1.4zM406.5 266.7h1.4v1.4h-1.4zM395.6 285.6h1.4v1.4h-1.4zM385.5 281.2h1.4v1.4h-1.4zM398.7 276.6h1.4v1.4h-1.4zM405.5 262.7h1.4v1.4h-1.4zM416.9 273.3h1.4v1.4h-1.4zM397.8 275.4h1.4v1.4h-1.4zM399.6 274.3h1.4v1.4h-1.4zM405.9 266.2h1.4v1.4h-1.4zM414.9 261.0h1.4v1.4h-1.4zM393.1 286.4h1.4v1.4h-1.4zM403.3 264.1h1.4v1.4h-1.4zM400.5 262.1h1.4v1.4h-1.4zM413.5 245.9h1.4v1.4h-1.4zM392.3 274.0h1.4v1.4h-1.4zM408.1 262.6h1.4v1.4h-1.4zM397.5 278.7h1.4v1.4h-1.4zM413.7 261.6h1.4v1.4h-1.4zM379.8 281.6h1.4v1.4h-1.4zM422.4 248.6h1.4v1.4h-1.4zM384.4 279.0h1.4v1.4h-1.4zM413.0 261.1h1.4v1.4h-1.4zM403.0 269.1h1.4v1.4h-1.4zM414.7 265.7h1.4v1.4h-1.4zM383.8 277.2h1.4v1.4h-1.4zM398.1 275.8h1.4v1.4h-1.4zM391.8 277.2h1.4v1.4h-1.4zM428.9 225.1h1.4v1.4h-1.4zM431.1 276.2h1.4v1.4h-1.4zM485.0 258.8h1.4v1.4h-1.4zM430.1 273.3h1.4v1.4h-1.4zM392.9 274.0h1.4v1.4h-1.4zM403.1 235.5h1.4v1.4h-1.4zM493.2 259.2h1.4v1.4h-1.4zM408.6 247.7h1.4v1.4h-1.4zM400.1 307.6h1.4v1.4h-1.4zM416.1 320.2h1.4v1.4h-1.4zM388.0 331.9h1.4v1.4h-1.4zM421.7 297.9h1.4v1.4h-1.4zM430.8 314.2h1.4v1.4h-1.4zM405.1 292.6h1.4v1.4h-1.4zM396.6 296.1h1.4v1.4h-1.4zM384.6 323.1h1.4v1.4h-1.4zM432.8 315.8h1.4v1.4h-1.4zM409.2 295.2h1.4v1.4h-1.4zM396.3 323.1h1.4v1.4h-1.4zM385.7 329.4h1.4v1.4h-1.4zM381.4 325.9h1.4v1.4h-1.4zM409.6 295.4h1.4v1.4h-1.4zM416.8 318.9h1.4v1.4h-1.4zM435.7 323.3h1.4v1.4h-1.4zM383.3 320.4h1.4v1.4h-1.4zM387.2 309.3h1.4v1.4h-1.4zM415.3 310.4h1.4v1.4h-1.4zM412.8 322.9h1.4v1.4h-1.4zM391.6 304.9h1.4v1.4h-1.4zM380.2 293.2h1.4v1.4h-1.4zM383.6 309.7h1.4v1.4h-1.4zM434.1 319.7h1.4v1.4h-1.4zM441.7 311.9h1.4v1.4h-1.4zM388.4 328.2h1.4v1.4h-1.4zM384.2 308.7h1.4v1.4h-1.4zM413.6 301.8h1.4v1.4h-1.4zM366.0 273.0h1.4v1.4h-1.4zM375.9 262.3h1.4v1.4h-1.4zM369.2 265.2h1.4v1.4h-1.4zM365.4 278.7h1.4v1.4h-1.4zM371.4 267.4h1.4v1.4h-1.4zM442.6 220.5h1.4v1.4h-1.4zM442.6 224.5h1.4v1.4h-1.4zM440.8 231.3h1.4v1.4h-1.4zM414.3 239.3h1.4v1.4h-1.4zM400.9 240.5h1.4v1.4h-1.4zM446.3 230.8h1.4v1.4h-1.4zM479.8 243.8h1.4v1.4h-1.4z" fill="#c82828"/><line x1="378.00" y1="219.40" x2="378.00" y2="336.10" stroke="#000" stroke-width="1.3"/><line x1="309.50" y1="288.70" x2="513.00" y2="288.70" stroke="#000" stroke-width="1.3"/><rect x="309.5" y="219.4" width="203.50" height="116.70" fill="none" stroke="#000" stroke-width="1.3"/><line x1="311.20" y1="239.60" x2="370.40" y2="239.60" stroke="#000" stroke-width="1.3"/><line x1="343.00" y1="221.20" x2="343.00" y2="257.30" stroke="#000" stroke-width="1.3"/><text transform="translate(319.92,234.49) scale(0.892,1)" font-family='"Liberation Serif", serif' font-weight="normal" font-size="11.11" fill="#404040" stroke="#404040" stroke-width="0.22">0</text><text transform="translate(325.26,234.43) scale(1.071,1)" font-family='"Liberation Serif", serif' font-weight="normal" font-size="11.85" fill="#404040" stroke="#404040" stroke-width="0.19">.</text><text transform="translate(328.55,234.49) scale(0.966,1)" font-family='"Liberation Serif", serif' font-weight="normal" font-size="11.16" fill="#404040" stroke="#404040" stroke-width="0.21">9</text><text transform="translate(345.95,234.60) scale(1.114,1)" font-family='"Liberation Sans", sans-serif' font-weight="normal" font-size="9.89" fill="#000" stroke="#000" stroke-width="0.11">44.3</text><text transform="translate(316.46,252.30) scale(1.106,1)" font-family='"Liberation Sans", sans-serif' font-weight="normal" font-size="9.89" fill="#000" stroke="#000" stroke-width="0.11">54.2</text><text transform="translate(349.28,252.30) scale(1.091,1)" font-family='"Liberation Sans", sans-serif' font-weight="normal" font-size="9.89" fill="#000" stroke="#000" stroke-width="0.11">0.6</text><line x1="310.30" y1="336.10" x2="310.30" y2="341.60" stroke="#000" stroke-width="1.4"/><line x1="325.46" y1="336.10" x2="325.46" y2="339.00" stroke="#000" stroke-width="1.4"/><line x1="334.33" y1="336.10" x2="334.33" y2="339.00" stroke="#000" stroke-width="1.4"/><line x1="340.63" y1="336.10" x2="340.63" y2="339.00" stroke="#000" stroke-width="1.4"/><line x1="345.51" y1="336.10" x2="345.51" y2="339.00" stroke="#000" stroke-width="1.4"/><line x1="349.50" y1="336.10" x2="349.50" y2="339.00" stroke="#000" stroke-width="1.4"/><line x1="352.87" y1="336.10" x2="352.87" y2="339.00" stroke="#000" stroke-width="1.4"/><line x1="355.79" y1="336.10" x2="355.79" y2="339.00" stroke="#000" stroke-width="1.4"/><line x1="358.37" y1="336.10" x2="358.37" y2="339.00" stroke="#000" stroke-width="1.4"/><line x1="360.68" y1="336.10" x2="360.68" y2="341.60" stroke="#000" stroke-width="1.4"/><line x1="375.84" y1="336.10" x2="375.84" y2="339.00" stroke="#000" stroke-width="1.4"/><line x1="384.71" y1="336.10" x2="384.71" y2="339.00" stroke="#000" stroke-width="1.4"/><line x1="391.00" y1="336.10" x2="391.00" y2="339.00" stroke="#000" stroke-width="1.4"/><line x1="395.89" y1="336.10" x2="395.89" y2="339.00" stroke="#000" stroke-width="1.4"/><line x1="399.87" y1="336.10" x2="399.87" y2="339.00" stroke="#000" stroke-width="1.4"/><line x1="403.25" y1="336.10" x2="403.25" y2="339.00" stroke="#000" stroke-width="1.4"/><line x1="406.17" y1="336.10" x2="406.17" y2="339.00" stroke="#000" stroke-width="1.4"/><line x1="408.74" y1="336.10" x2="408.74" y2="339.00" stroke="#000" stroke-width="1.4"/><line x1="411.05" y1="336.10" x2="411.05" y2="341.60" stroke="#000" stroke-width="1.4"/><line x1="426.21" y1="336.10" x2="426.21" y2="339.00" stroke="#000" stroke-width="1.4"/><line x1="435.08" y1="336.10" x2="435.08" y2="339.00" stroke="#000" stroke-width="1.4"/><line x1="441.38" y1="336.10" x2="441.38" y2="339.00" stroke="#000" stroke-width="1.4"/><line x1="446.26" y1="336.10" x2="446.26" y2="339.00" stroke="#000" stroke-width="1.4"/><line x1="450.25" y1="336.10" x2="450.25" y2="339.00" stroke="#000" stroke-width="1.4"/><line x1="453.62" y1="336.10" x2="453.62" y2="339.00" stroke="#000" stroke-width="1.4"/><line x1="456.54" y1="336.10" x2="456.54" y2="339.00" stroke="#000" stroke-width="1.4"/><line x1="459.12" y1="336.10" x2="459.12" y2="339.00" stroke="#000" stroke-width="1.4"/><line x1="461.43" y1="336.10" x2="461.43" y2="341.60" stroke="#000" stroke-width="1.4"/><line x1="476.59" y1="336.10" x2="476.59" y2="339.00" stroke="#000" stroke-width="1.4"/><line x1="485.46" y1="336.10" x2="485.46" y2="339.00" stroke="#000" stroke-width="1.4"/><line x1="491.75" y1="336.10" x2="491.75" y2="339.00" stroke="#000" stroke-width="1.4"/><line x1="496.64" y1="336.10" x2="496.64" y2="339.00" stroke="#000" stroke-width="1.4"/><line x1="500.62" y1="336.10" x2="500.62" y2="339.00" stroke="#000" stroke-width="1.4"/><line x1="504.00" y1="336.10" x2="504.00" y2="339.00" stroke="#000" stroke-width="1.4"/><line x1="506.92" y1="336.10" x2="506.92" y2="339.00" stroke="#000" stroke-width="1.4"/><line x1="509.49" y1="336.10" x2="509.49" y2="339.00" stroke="#000" stroke-width="1.4"/><line x1="511.80" y1="336.10" x2="511.80" y2="341.60" stroke="#000" stroke-width="1.4"/><line x1="304.20" y1="335.50" x2="309.50" y2="335.50" stroke="#000" stroke-width="1.5"/><line x1="306.60" y1="326.85" x2="309.50" y2="326.85" stroke="#000" stroke-width="1.5"/><line x1="306.60" y1="321.79" x2="309.50" y2="321.79" stroke="#000" stroke-width="1.5"/><line x1="306.60" y1="318.21" x2="309.50" y2="318.21" stroke="#000" stroke-width="1.5"/><line x1="306.60" y1="315.42" x2="309.50" y2="315.42" stroke="#000" stroke-width="1.5"/><line x1="306.60" y1="313.15" x2="309.50" y2="313.15" stroke="#000" stroke-width="1.5"/><line x1="306.60" y1="311.22" x2="309.50" y2="311.22" stroke="#000" stroke-width="1.5"/><line x1="306.60" y1="309.56" x2="309.50" y2="309.56" stroke="#000" stroke-width="1.5"/><line x1="306.60" y1="308.09" x2="309.50" y2="308.09" stroke="#000" stroke-width="1.5"/><line x1="304.20" y1="306.77" x2="309.50" y2="306.77" stroke="#000" stroke-width="1.5"/><line x1="306.60" y1="298.13" x2="309.50" y2="298.13" stroke="#000" stroke-width="1.5"/><line x1="306.60" y1="293.07" x2="309.50" y2="293.07" stroke="#000" stroke-width="1.5"/><line x1="306.60" y1="289.48" x2="309.50" y2="289.48" stroke="#000" stroke-width="1.5"/><line x1="306.60" y1="286.70" x2="309.50" y2="286.70" stroke="#000" stroke-width="1.5"/><line x1="306.60" y1="284.42" x2="309.50" y2="284.42" stroke="#000" stroke-width="1.5"/><line x1="306.60" y1="282.50" x2="309.50" y2="282.50" stroke="#000" stroke-width="1.5"/><line x1="306.60" y1="280.83" x2="309.50" y2="280.83" stroke="#000" stroke-width="1.5"/><line x1="306.60" y1="279.36" x2="309.50" y2="279.36" stroke="#000" stroke-width="1.5"/><line x1="304.20" y1="278.05" x2="309.50" y2="278.05" stroke="#000" stroke-width="1.5"/><line x1="306.60" y1="269.40" x2="309.50" y2="269.40" stroke="#000" stroke-width="1.5"/><line x1="306.60" y1="264.34" x2="309.50" y2="264.34" stroke="#000" stroke-width="1.5"/><line x1="306.60" y1="260.76" x2="309.50" y2="260.76" stroke="#000" stroke-width="1.5"/><line x1="306.60" y1="257.97" x2="309.50" y2="257.97" stroke="#000" stroke-width="1.5"/><line x1="306.60" y1="255.70" x2="309.50" y2="255.70" stroke="#000" stroke-width="1.5"/><line x1="306.60" y1="253.77" x2="309.50" y2="253.77" stroke="#000" stroke-width="1.5"/><line x1="306.60" y1="252.11" x2="309.50" y2="252.11" stroke="#000" stroke-width="1.5"/><line x1="306.60" y1="250.64" x2="309.50" y2="250.64" stroke="#000" stroke-width="1.5"/><line x1="304.20" y1="249.32" x2="309.50" y2="249.32" stroke="#000" stroke-width="1.5"/><line x1="306.60" y1="240.68" x2="309.50" y2="240.68" stroke="#000" stroke-width="1.5"/><line x1="306.60" y1="235.62" x2="309.50" y2="235.62" stroke="#000" stroke-width="1.5"/><line x1="306.60" y1="232.03" x2="309.50" y2="232.03" stroke="#000" stroke-width="1.5"/><line x1="306.60" y1="229.25" x2="309.50" y2="229.25" stroke="#000" stroke-width="1.5"/><line x1="306.60" y1="226.97" x2="309.50" y2="226.97" stroke="#000" stroke-width="1.5"/><line x1="306.60" y1="225.05" x2="309.50" y2="225.05" stroke="#000" stroke-width="1.5"/><line x1="306.60" y1="223.38" x2="309.50" y2="223.38" stroke="#000" stroke-width="1.5"/><line x1="306.60" y1="221.91" x2="309.50" y2="221.91" stroke="#000" stroke-width="1.5"/><line x1="304.20" y1="220.60" x2="309.50" y2="220.60" stroke="#000" stroke-width="1.5"/><text transform="translate(302.50,354.10) scale(0.815,1)" font-family='"Liberation Sans", sans-serif' font-weight="normal" font-size="11.20" fill="#000" stroke="#000" stroke-width="0.37">10</text><text transform="translate(313.43,347.40) scale(0.900,1)" font-family='"Liberation Sans", sans-serif' font-weight="normal" font-size="10.40" fill="#000" stroke="#000" stroke-width="0.33">0</text><text transform="translate(352.88,354.10) scale(0.815,1)" font-family='"Liberation Sans", sans-serif' font-weight="normal" font-size="11.20" fill="#000" stroke="#000" stroke-width="0.37">10</text><text transform="translate(363.46,347.40) scale(0.900,1)" font-family='"Liberation Sans", sans-serif' font-weight="normal" font-size="10.40" fill="#000" stroke="#000" stroke-width="0.33">1</text><text transform="translate(403.25,354.10) scale(0.815,1)" font-family='"Liberation Sans", sans-serif' font-weight="normal" font-size="11.20" fill="#000" stroke="#000" stroke-width="0.37">10</text><text transform="translate(414.08,347.40) scale(0.900,1)" font-family='"Liberation Sans", sans-serif' font-weight="normal" font-size="10.40" fill="#000" stroke="#000" stroke-width="0.33">2</text><text transform="translate(453.63,354.10) scale(0.815,1)" font-family='"Liberation Sans", sans-serif' font-weight="normal" font-size="11.20" fill="#000" stroke="#000" stroke-width="0.37">10</text><text transform="translate(464.57,347.40) scale(0.900,1)" font-family='"Liberation Sans", sans-serif' font-weight="normal" font-size="10.40" fill="#000" stroke="#000" stroke-width="0.33">3</text><text transform="translate(504.00,354.10) scale(0.815,1)" font-family='"Liberation Sans", sans-serif' font-weight="normal" font-size="11.20" fill="#000" stroke="#000" stroke-width="0.37">10</text><text transform="translate(515.09,347.40) scale(0.900,1)" font-family='"Liberation Sans", sans-serif' font-weight="normal" font-size="10.40" fill="#000" stroke="#000" stroke-width="0.33">4</text><text transform="translate(299.52,343.28) rotate(-90) scale(0.800,1)" font-family='"Liberation Sans", sans-serif' font-weight="normal" font-size="11.20" fill="#000" stroke="#000" stroke-width="0.37">10</text><text transform="translate(293.62,331.25) rotate(-90) scale(0.800,1)" font-family='"Liberation Sans", sans-serif' font-weight="normal" font-size="11.20" fill="#000" stroke="#000" stroke-width="0.37">0</text><text transform="translate(299.52,314.56) rotate(-90) scale(0.800,1)" font-family='"Liberation Sans", sans-serif' font-weight="normal" font-size="11.20" fill="#000" stroke="#000" stroke-width="0.37">10</text><text transform="translate(293.51,302.86) rotate(-90) scale(0.800,1)" font-family='"Liberation Sans", sans-serif' font-weight="normal" font-size="11.20" fill="#000" stroke="#000" stroke-width="0.37">1</text><text transform="translate(299.52,285.83) rotate(-90) scale(0.800,1)" font-family='"Liberation Sans", sans-serif' font-weight="normal" font-size="11.20" fill="#000" stroke="#000" stroke-width="0.37">10</text><text transform="translate(293.62,273.90) rotate(-90) scale(0.800,1)" font-family='"Liberation Sans", sans-serif' font-weight="normal" font-size="11.20" fill="#000" stroke="#000" stroke-width="0.37">2</text><text transform="translate(299.52,257.11) rotate(-90) scale(0.800,1)" font-family='"Liberation Sans", sans-serif' font-weight="normal" font-size="11.20" fill="#000" stroke="#000" stroke-width="0.37">10</text><text transform="translate(293.62,245.07) rotate(-90) scale(0.800,1)" font-family='"Liberation Sans", sans-serif' font-weight="normal" font-size="11.20" fill="#000" stroke="#000" stroke-width="0.37">3</text><text transform="translate(299.52,228.38) rotate(-90) scale(0.800,1)" font-family='"Liberation Sans", sans-serif' font-weight="normal" font-size="11.20" fill="#000" stroke="#000" stroke-width="0.37">10</text><text transform="translate(293.51,216.21) rotate(-90) scale(0.800,1)" font-family='"Liberation Sans", sans-serif' font-weight="normal" font-size="11.20" fill="#000" stroke="#000" stroke-width="0.37">4</text><text transform="translate(279.80,300.42) rotate(-90) scale(1.023,1)" font-family='"Liberation Sans", sans-serif' font-weight="normal" font-size="10.03" fill="#000" stroke="#000" stroke-width="0.20">CD19 PE</text><text transform="translate(383.43,365.29) scale(0.931,1)" font-family='"Liberation Sans", sans-serif' font-weight="normal" font-size="11.44" fill="#000" stroke="#000" stroke-width="0.21">B220 FITC</text><text transform="translate(402.07,214.30) scale(0.964,1)" font-family='"Liberation Sans", sans-serif' font-weight="bold" font-size="26.89" fill="#000" stroke="#000" stroke-width="0.31">D</text></svg></body></html>
